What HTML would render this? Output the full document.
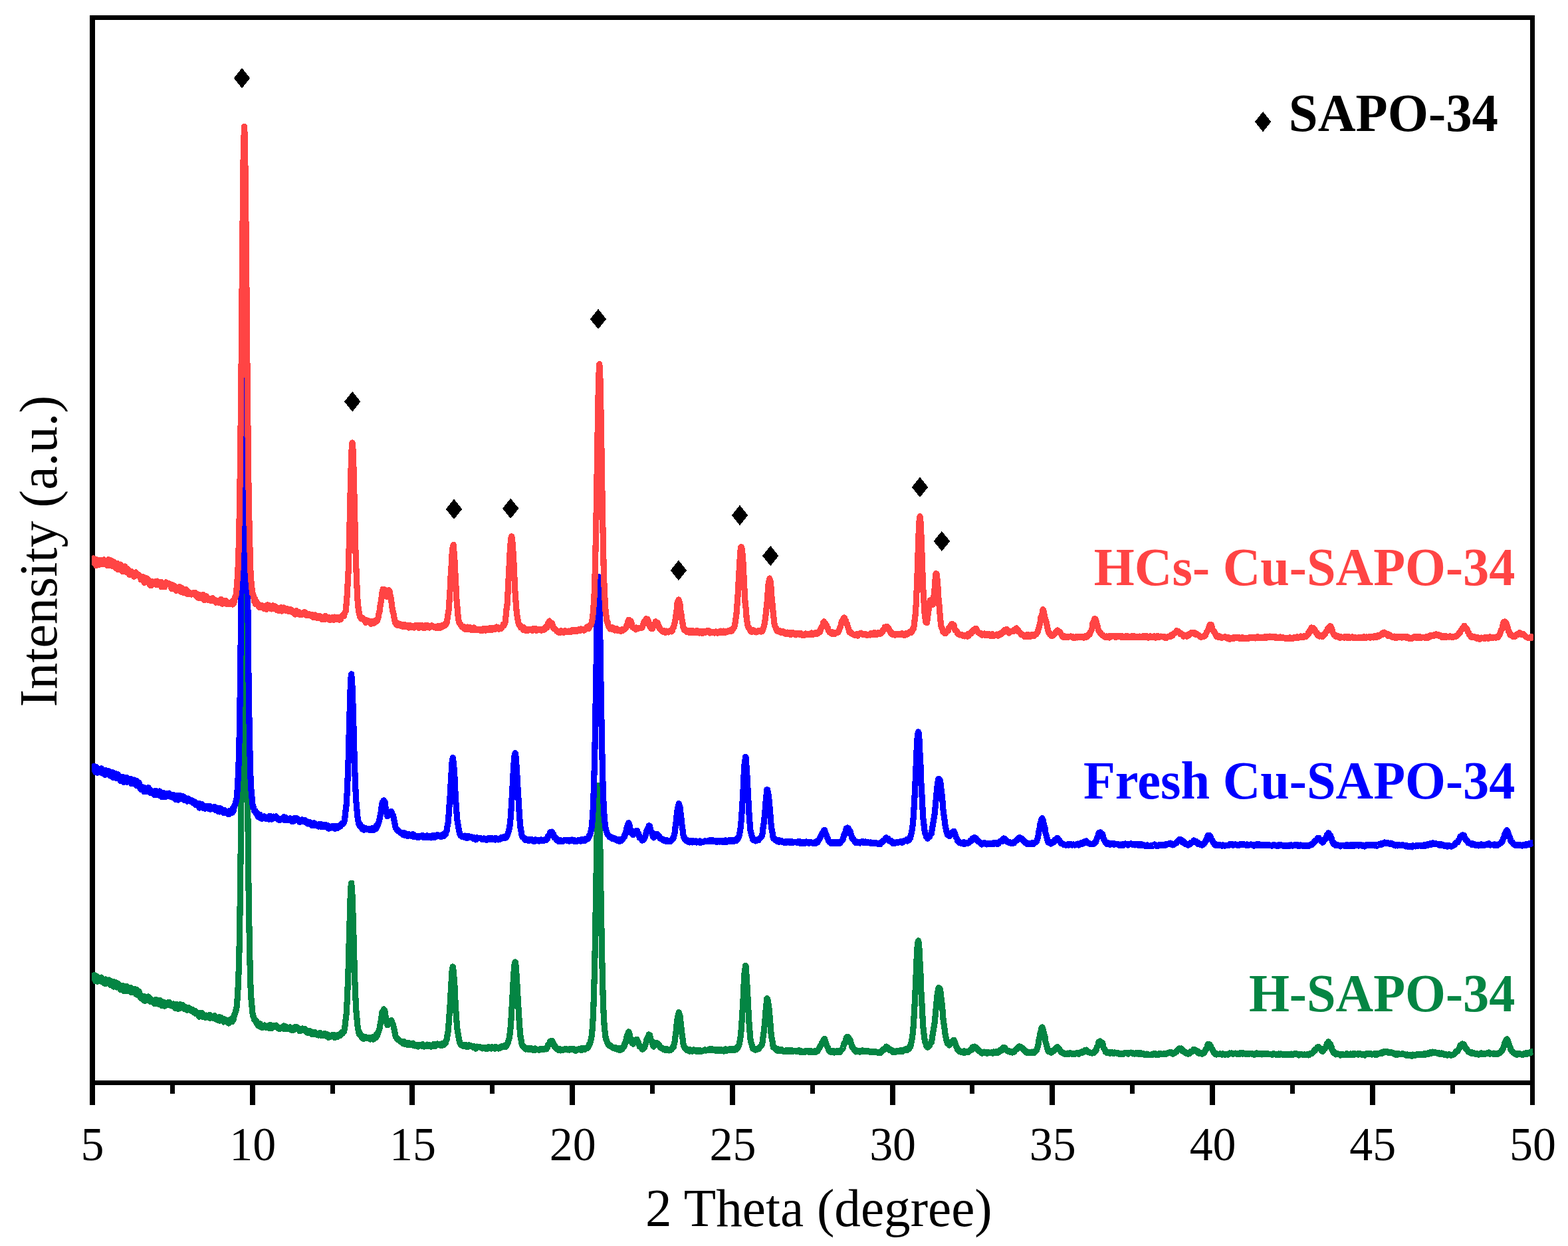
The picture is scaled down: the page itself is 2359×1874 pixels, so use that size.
<!DOCTYPE html>
<html lang="en">
<head>
<meta charset="utf-8">
<title>XRD patterns</title>
<style>
html,body{margin:0;padding:0;background:#fff;}
body{width:2359px;height:1874px;overflow:hidden;}
svg{display:block;}
text{font-family:"Liberation Serif","Times New Roman",Times,serif;}
.lab{font-size:80px;}
.b{font-weight:bold;font-size:80px;}
.tk{font-size:72.5px;text-anchor:middle;}
.cv{shape-rendering:crispEdges;fill:none;stroke-width:9.2;stroke-linejoin:round;stroke-linecap:butt;}
</style>
</head>
<body>
<svg width="2359" height="1874" viewBox="0 0 2359 1874">
<rect x="0" y="0" width="2359" height="1874" fill="#ffffff"/>
<g fill="#000">
<rect x="135" y="23" width="2174" height="7"/>
<rect x="135" y="1625" width="2174" height="7"/>
<rect x="135" y="23" width="8" height="1639"/>
<rect x="2302" y="23" width="7" height="1639"/>
<rect x="376" y="1628" width="8" height="34"/>
<rect x="616" y="1628" width="8" height="34"/>
<rect x="857" y="1628" width="8" height="34"/>
<rect x="1098" y="1628" width="8" height="34"/>
<rect x="1339" y="1628" width="8" height="34"/>
<rect x="1579" y="1628" width="8" height="34"/>
<rect x="1820" y="1628" width="8" height="34"/>
<rect x="2061" y="1628" width="8" height="34"/>
<rect x="256" y="1628" width="7" height="17"/>
<rect x="497" y="1628" width="7" height="17"/>
<rect x="737" y="1628" width="7" height="17"/>
<rect x="978" y="1628" width="7" height="17"/>
<rect x="1219" y="1628" width="7" height="17"/>
<rect x="1459" y="1628" width="7" height="17"/>
<rect x="1700" y="1628" width="7" height="17"/>
<rect x="1941" y="1628" width="7" height="17"/>
<rect x="2182" y="1628" width="7" height="17"/>
</g>
<defs><clipPath id="plot"><rect x="138" y="26" width="2169" height="1603"/></clipPath></defs>
<g clip-path="url(#plot)">
<path class="cv" stroke="#048543" d="M139.0 1466.7L140.0 1470.2L140.9 1471.4L141.9 1466.6L142.9 1467.8L143.8 1475.7L144.8 1467.9L145.7 1468.6L146.7 1476.4L147.7 1473.3L148.6 1471.7L149.6 1473.0L150.6 1474.4L151.5 1471.2L152.5 1470.0L153.4 1476.6L154.4 1475.6L155.4 1474.7L156.3 1478.5L157.3 1476.0L158.3 1479.7L159.2 1472.8L160.2 1476.4L161.1 1475.9L162.1 1474.9L163.1 1477.4L164.0 1474.0L165.0 1479.8L166.0 1481.3L166.9 1475.4L167.9 1478.7L168.8 1477.2L169.8 1476.1L170.8 1484.1L171.7 1480.0L172.7 1477.5L173.7 1482.2L174.6 1478.0L175.6 1485.0L176.6 1479.9L177.5 1479.0L178.5 1481.0L179.4 1482.6L180.4 1484.2L181.4 1488.9L182.3 1487.5L183.3 1484.8L184.3 1482.3L185.2 1483.6L186.2 1490.7L187.1 1486.1L188.1 1488.3L189.1 1483.4L190.0 1483.4L191.0 1490.6L192.0 1488.5L192.9 1486.6L193.9 1487.2L194.8 1485.7L195.8 1486.1L196.8 1485.6L197.7 1492.9L198.7 1489.4L199.7 1487.2L200.6 1492.9L201.6 1488.1L202.6 1487.2L203.5 1491.9L204.5 1495.3L205.4 1488.4L206.4 1496.2L207.4 1492.2L208.3 1491.9L209.3 1491.7L210.3 1495.3L211.2 1500.1L212.2 1498.8L213.1 1502.1L214.1 1497.9L215.1 1498.4L216.0 1498.4L217.0 1505.0L218.0 1505.1L218.9 1500.2L219.9 1500.8L220.8 1500.3L221.8 1504.3L222.8 1499.0L223.7 1499.2L224.7 1502.4L225.7 1501.6L226.6 1506.7L227.6 1506.2L228.5 1505.3L229.5 1506.6L230.5 1507.4L231.4 1508.1L232.4 1509.7L233.4 1503.8L234.3 1507.4L235.3 1503.7L236.3 1506.6L237.2 1509.4L238.2 1510.1L239.1 1509.4L240.1 1504.1L241.1 1506.8L242.0 1505.6L243.0 1512.5L244.0 1506.7L244.9 1507.6L245.9 1508.9L246.8 1507.1L247.8 1513.1L248.8 1511.9L249.7 1508.2L250.7 1510.9L251.7 1508.0L252.6 1511.7L253.6 1508.9L254.5 1507.3L255.5 1508.4L256.5 1512.0L257.4 1512.9L258.4 1511.1L259.4 1513.3L260.3 1511.0L261.3 1509.9L262.2 1511.9L263.2 1512.9L264.2 1516.8L265.1 1510.7L266.1 1510.4L267.1 1513.6L268.0 1517.2L269.0 1516.9L270.0 1515.3L270.9 1510.6L271.9 1516.0L272.8 1515.6L273.8 1512.0L274.8 1514.5L275.7 1512.0L276.7 1517.3L277.7 1517.1L278.6 1517.8L279.6 1518.0L280.5 1515.0L281.5 1519.3L282.5 1515.7L283.4 1515.3L284.4 1517.3L285.4 1518.4L286.3 1517.3L287.3 1520.1L288.2 1520.3L289.2 1518.2L290.2 1521.1L291.1 1519.6L292.1 1522.9L293.1 1520.2L294.0 1524.4L295.0 1522.2L296.0 1523.8L296.9 1524.8L297.9 1524.5L298.8 1523.3L299.8 1529.2L300.8 1523.1L301.7 1525.0L302.7 1526.7L303.7 1523.4L304.6 1524.7L305.6 1529.6L306.5 1529.4L307.5 1528.5L308.5 1530.4L309.4 1529.8L310.4 1527.1L311.4 1529.3L312.3 1527.5L313.3 1530.2L314.2 1527.9L315.2 1526.4L316.2 1531.4L317.1 1529.8L318.1 1530.4L319.1 1529.3L320.0 1531.0L321.0 1529.2L321.9 1530.2L322.9 1527.4L323.9 1531.3L324.8 1533.1L325.8 1532.6L326.8 1533.7L327.7 1532.0L328.7 1534.8L329.7 1529.6L330.6 1535.2L331.6 1532.0L332.5 1530.3L333.5 1534.2L334.5 1533.6L335.4 1534.0L336.4 1537.0L337.4 1532.6L338.3 1536.5L339.3 1535.7L340.2 1536.6L341.2 1536.8L342.2 1534.8L343.1 1537.5L344.1 1539.1L345.1 1534.7L346.0 1533.5L347.0 1533.2L347.9 1534.7L348.9 1536.9L349.9 1530.5L350.8 1534.9L351.8 1530.1L352.8 1525.2L353.7 1524.5L354.7 1519.9L355.7 1518.2L356.6 1509.3L357.6 1495.6L358.5 1476.5L359.5 1450.9L360.5 1406.4L361.4 1342.9L362.4 1260.2L363.4 1160.2L364.3 1047.3L365.3 928.7L366.2 830.5L367.2 770.2L367.8 759.6L368.2 761.9L369.1 811.3L370.1 904.0L371.1 1017.9L372.0 1134.9L373.0 1239.9L373.9 1325.8L374.9 1392.6L375.9 1443.1L376.8 1478.7L377.8 1500.4L378.8 1510.6L379.7 1522.5L380.7 1528.5L381.6 1528.9L382.6 1533.8L383.6 1533.4L384.5 1534.0L385.5 1538.2L386.5 1536.7L387.4 1540.8L388.4 1542.5L389.4 1543.3L390.3 1541.2L391.3 1539.6L392.2 1544.6L393.2 1544.8L394.2 1545.7L395.1 1544.2L396.1 1544.7L397.1 1543.2L398.0 1542.1L399.0 1542.8L399.9 1545.6L400.9 1543.5L401.9 1545.4L402.8 1543.8L403.8 1543.5L404.8 1546.4L405.7 1541.7L406.7 1543.7L407.6 1541.9L408.6 1546.5L409.6 1543.8L410.5 1543.0L411.5 1542.2L412.5 1544.8L413.4 1543.9L414.4 1542.6L415.3 1542.2L416.3 1544.2L417.3 1545.4L418.2 1545.2L419.2 1547.2L420.2 1547.4L421.1 1547.6L422.1 1546.9L423.1 1545.2L424.0 1545.3L425.0 1544.8L425.9 1544.7L426.9 1542.9L427.9 1547.7L428.8 1544.9L429.8 1543.9L430.8 1546.3L431.7 1547.6L432.7 1546.4L433.6 1546.1L434.6 1547.8L435.6 1545.7L436.5 1544.9L437.5 1548.4L438.5 1547.9L439.4 1549.8L440.4 1547.3L441.3 1549.5L442.3 1545.1L443.3 1544.8L444.2 1547.8L445.2 1545.4L446.2 1544.7L447.1 1545.3L448.1 1546.7L449.1 1547.2L450.0 1548.7L451.0 1550.9L451.9 1548.6L452.9 1547.5L453.9 1549.9L454.8 1547.0L455.8 1549.2L456.8 1548.9L457.7 1549.3L458.7 1547.6L459.6 1550.6L460.6 1551.4L461.6 1552.2L462.5 1553.2L463.5 1550.2L464.5 1552.3L465.4 1551.4L466.4 1550.8L467.3 1554.3L468.3 1553.9L469.3 1555.6L470.2 1555.1L471.2 1555.9L472.2 1552.1L473.1 1552.1L474.1 1553.0L475.0 1554.5L476.0 1556.1L477.0 1554.7L477.9 1555.8L478.9 1557.2L479.9 1554.0L480.8 1556.9L481.8 1553.4L482.8 1554.9L483.7 1557.6L484.7 1557.4L485.6 1556.1L486.6 1554.9L487.6 1557.7L488.5 1555.6L489.5 1554.8L490.5 1556.1L491.4 1555.2L492.4 1559.1L493.3 1556.1L494.3 1560.5L495.3 1557.0L496.2 1557.7L497.2 1559.4L498.2 1557.9L499.1 1557.9L500.1 1556.7L501.0 1558.3L502.0 1556.3L503.0 1557.0L503.9 1560.7L504.9 1557.5L505.9 1557.3L506.8 1559.1L507.8 1559.7L508.7 1556.5L509.7 1556.4L510.7 1557.5L511.6 1557.4L512.6 1556.1L513.6 1553.2L514.5 1552.3L515.5 1554.2L516.5 1552.6L517.4 1551.7L518.4 1547.4L519.3 1540.4L520.3 1531.1L521.3 1523.5L522.2 1505.7L523.2 1482.3L524.2 1454.5L525.1 1419.7L526.1 1384.8L527.0 1354.2L528.0 1333.0L528.7 1328.1L529.9 1344.5L530.9 1372.2L531.9 1405.4L532.8 1440.0L533.8 1473.9L534.7 1496.3L535.7 1518.1L536.7 1528.3L537.6 1540.2L538.6 1546.7L539.6 1552.4L540.5 1555.5L541.5 1553.7L542.5 1557.6L543.4 1559.0L544.4 1557.7L545.3 1561.4L546.3 1560.2L547.3 1562.4L548.2 1559.2L549.2 1560.8L550.2 1559.8L551.1 1561.7L552.1 1561.4L553.0 1561.2L554.0 1560.8L555.0 1561.5L555.9 1561.0L556.9 1563.1L557.9 1561.2L558.8 1561.2L559.8 1560.0L560.7 1560.1L561.7 1563.1L562.7 1559.6L563.6 1561.9L564.6 1559.5L565.6 1560.6L566.5 1555.3L567.5 1557.6L568.4 1555.1L569.4 1551.8L570.4 1549.2L571.3 1545.4L572.3 1539.2L573.3 1534.9L574.2 1527.1L575.2 1521.2L576.2 1520.9L577.4 1517.9L578.1 1521.3L579.0 1520.3L580.0 1528.0L581.0 1534.0L581.9 1538.2L582.9 1541.9L583.9 1539.7L584.8 1540.5L585.8 1540.0L586.7 1538.8L587.7 1536.1L588.7 1534.6L589.5 1536.1L590.6 1540.5L591.6 1540.8L592.5 1546.6L593.5 1549.8L594.4 1555.3L595.4 1559.3L596.4 1560.1L597.3 1562.7L598.3 1562.3L599.3 1564.1L600.2 1564.3L601.2 1565.1L602.1 1565.7L603.1 1567.1L604.1 1566.7L605.0 1567.2L606.0 1569.5L607.0 1566.5L607.9 1566.6L608.9 1567.4L609.9 1570.9L610.8 1570.0L611.8 1570.7L612.7 1571.4L613.7 1568.4L614.7 1571.4L615.6 1568.9L616.6 1570.3L617.6 1570.7L618.5 1571.5L619.5 1569.3L620.4 1570.2L621.4 1569.0L622.4 1569.9L623.3 1572.9L624.3 1572.7L625.3 1571.7L626.2 1572.8L627.2 1573.4L628.1 1571.4L629.1 1574.1L630.1 1572.2L631.0 1571.4L632.0 1572.6L633.0 1572.9L633.9 1573.0L634.9 1572.8L635.9 1570.5L636.8 1572.9L637.8 1574.1L638.7 1572.9L639.7 1573.9L640.7 1572.2L641.6 1573.5L642.6 1571.1L643.6 1573.9L644.5 1572.2L645.5 1573.9L646.4 1571.7L647.4 1573.1L648.4 1574.0L649.3 1573.3L650.3 1572.7L651.3 1573.8L652.2 1570.4L653.2 1570.3L654.1 1571.8L655.1 1573.2L656.1 1572.1L657.0 1570.6L658.0 1570.0L659.0 1571.4L659.9 1571.6L660.9 1571.4L661.8 1572.0L662.8 1570.8L663.8 1572.9L664.7 1570.5L665.7 1569.5L666.7 1569.9L667.6 1571.6L668.6 1568.0L669.6 1567.6L670.5 1568.7L671.5 1564.2L672.4 1562.8L673.4 1554.2L674.4 1550.4L675.3 1536.4L676.3 1522.2L677.3 1508.4L678.2 1491.6L679.2 1474.7L680.1 1460.5L681.2 1453.9L682.1 1460.0L683.0 1469.7L684.0 1483.8L685.0 1506.1L685.9 1521.0L686.9 1535.0L687.8 1547.0L688.8 1553.2L689.8 1558.9L690.7 1564.1L691.7 1567.9L692.7 1569.9L693.6 1571.7L694.6 1571.8L695.5 1573.0L696.5 1572.3L697.5 1573.1L698.4 1572.8L699.4 1571.3L700.4 1571.4L701.3 1574.3L702.3 1572.5L703.3 1574.5L704.2 1573.5L705.2 1571.9L706.1 1573.8L707.1 1573.7L708.1 1572.5L709.0 1573.4L710.0 1573.7L711.0 1574.0L711.9 1575.5L712.9 1573.7L713.8 1575.2L714.8 1575.8L715.8 1577.2L716.7 1574.2L717.7 1574.1L718.7 1574.7L719.6 1574.8L720.6 1574.7L721.5 1574.5L722.5 1575.0L723.5 1575.1L724.4 1576.1L725.4 1576.8L726.4 1575.8L727.3 1575.2L728.3 1575.2L729.3 1576.2L730.2 1575.8L731.2 1576.5L732.1 1577.8L733.1 1577.1L734.1 1575.3L735.0 1574.8L736.0 1575.1L737.0 1576.4L737.9 1575.9L738.9 1577.1L739.8 1574.7L740.8 1575.0L741.8 1576.8L742.7 1576.6L743.7 1576.1L744.7 1577.3L745.6 1574.7L746.6 1575.0L747.5 1575.9L748.5 1575.8L749.5 1577.1L750.4 1577.1L751.4 1575.8L752.4 1576.4L753.3 1576.0L754.3 1573.8L755.2 1575.1L756.2 1574.1L757.2 1574.0L758.1 1573.0L759.1 1572.3L760.1 1574.7L761.0 1573.8L762.0 1573.2L763.0 1570.3L763.9 1569.0L764.9 1565.2L765.8 1562.7L766.8 1557.5L767.8 1548.8L768.7 1538.2L769.7 1520.3L770.7 1506.3L771.6 1484.8L772.6 1470.0L773.5 1454.0L774.5 1448.4L775.0 1446.9L775.5 1447.3L776.4 1455.5L777.4 1471.6L778.4 1487.8L779.3 1505.6L780.3 1520.5L781.2 1536.2L782.2 1550.7L783.2 1560.3L784.1 1564.2L785.1 1570.3L786.1 1573.3L787.0 1572.8L788.0 1573.9L789.0 1576.4L789.9 1575.4L790.9 1578.1L791.8 1576.4L792.8 1577.8L793.8 1577.7L794.7 1576.5L795.7 1578.8L796.7 1577.4L797.6 1576.5L798.6 1576.5L799.5 1577.8L800.5 1578.4L801.5 1577.3L802.4 1579.4L803.4 1577.6L804.4 1579.6L805.3 1577.0L806.3 1578.3L807.2 1578.0L808.2 1578.6L809.2 1578.1L810.1 1578.4L811.1 1579.3L812.1 1578.1L813.0 1578.2L814.0 1577.2L814.9 1578.5L815.9 1577.4L816.9 1578.0L817.8 1578.6L818.8 1577.7L819.8 1577.0L820.7 1576.7L821.7 1578.0L822.7 1576.5L823.6 1575.4L824.6 1571.6L825.5 1570.4L826.5 1570.1L827.5 1566.0L828.4 1567.2L829.3 1565.6L830.4 1565.3L831.3 1567.5L832.3 1568.2L833.2 1572.5L834.2 1574.4L835.2 1573.3L836.1 1575.4L837.1 1577.5L838.1 1576.5L839.0 1578.2L840.0 1579.4L840.9 1578.8L841.9 1577.4L842.9 1579.9L843.8 1579.9L844.8 1579.4L845.8 1578.9L846.7 1579.9L847.7 1579.0L848.6 1578.1L849.6 1577.8L850.6 1577.5L851.5 1577.6L852.5 1577.8L853.5 1579.0L854.4 1578.8L855.4 1578.6L856.4 1579.3L857.3 1577.3L858.3 1578.2L859.2 1577.2L860.2 1578.3L861.2 1577.2L862.1 1577.3L863.1 1577.5L864.1 1578.8L865.0 1580.1L866.0 1578.5L866.9 1580.1L867.9 1578.4L868.9 1578.2L869.8 1578.7L870.8 1577.5L871.8 1578.5L872.7 1578.6L873.7 1579.3L874.6 1576.8L875.6 1579.1L876.6 1578.3L877.5 1578.2L878.5 1576.4L879.5 1578.8L880.4 1576.2L881.4 1576.4L882.4 1575.8L883.3 1576.6L884.3 1574.6L885.2 1574.9L886.2 1570.9L887.2 1570.6L888.1 1567.6L889.1 1563.7L890.1 1558.9L891.0 1549.5L892.0 1534.5L892.9 1514.7L893.9 1481.1L894.9 1442.3L895.8 1390.9L896.8 1332.0L897.8 1273.3L898.7 1221.7L899.7 1187.3L900.3 1181.6L900.6 1182.7L901.6 1209.9L902.6 1255.6L903.5 1314.7L904.5 1374.6L905.5 1428.1L906.4 1470.0L907.4 1507.9L908.3 1527.6L909.3 1545.0L910.3 1553.3L911.2 1561.2L912.2 1564.0L913.2 1566.5L914.1 1568.9L915.1 1570.7L916.1 1571.8L917.0 1573.1L918.0 1572.6L918.9 1572.5L919.9 1573.6L920.9 1574.4L921.8 1576.0L922.8 1575.9L923.8 1575.8L924.7 1575.1L925.7 1577.2L926.6 1575.9L927.6 1577.3L928.6 1578.4L929.5 1578.4L930.5 1576.9L931.5 1577.6L932.4 1579.6L933.4 1577.0L934.3 1578.7L935.3 1577.5L936.3 1577.5L937.2 1576.1L938.2 1573.7L939.2 1573.4L940.1 1568.9L941.1 1568.9L942.0 1564.6L943.0 1558.8L944.0 1556.2L944.9 1554.1L945.4 1554.0L945.9 1551.7L946.9 1554.6L947.8 1558.7L948.8 1564.0L949.8 1567.0L950.7 1568.4L951.7 1567.9L952.6 1570.1L953.6 1568.4L954.6 1565.6L955.5 1565.9L956.5 1563.9L957.3 1563.6L958.4 1563.5L959.4 1566.6L960.3 1567.4L961.3 1570.4L962.3 1574.2L963.2 1574.3L964.2 1574.9L965.2 1576.7L966.1 1578.2L967.1 1578.0L968.0 1576.9L969.0 1576.5L970.0 1574.3L970.9 1571.7L971.9 1568.1L972.9 1563.5L973.8 1562.6L974.8 1559.3L975.8 1558.9L976.2 1556.0L976.7 1558.2L977.7 1556.9L978.6 1562.8L979.6 1565.8L980.6 1565.4L981.5 1569.0L982.5 1573.2L983.5 1574.0L984.4 1573.1L985.4 1570.3L986.3 1568.7L987.3 1568.8L988.3 1570.8L988.8 1569.4L989.2 1569.0L990.2 1570.9L991.2 1572.8L992.1 1572.2L993.1 1575.3L994.0 1574.9L995.0 1576.3L996.0 1576.0L996.9 1577.0L997.9 1578.4L998.9 1577.1L999.8 1578.7L1000.8 1577.6L1001.7 1579.7L1002.7 1577.6L1003.7 1578.0L1004.6 1578.6L1005.6 1579.4L1006.6 1580.0L1007.5 1579.8L1008.5 1579.7L1009.5 1579.0L1010.4 1578.2L1011.4 1576.6L1012.3 1574.5L1013.3 1574.8L1014.3 1569.9L1015.2 1566.0L1016.2 1557.1L1017.2 1550.4L1018.1 1540.0L1019.1 1532.6L1020.0 1527.9L1021.3 1522.6L1022.0 1525.0L1022.9 1527.2L1023.9 1536.3L1024.9 1544.9L1025.8 1553.7L1026.8 1560.3L1027.7 1568.3L1028.7 1573.1L1029.7 1575.7L1030.6 1575.2L1031.6 1577.9L1032.6 1578.3L1033.5 1579.5L1034.5 1578.0L1035.4 1580.3L1036.4 1579.5L1037.4 1581.2L1038.3 1578.5L1039.3 1579.8L1040.3 1580.1L1041.2 1581.2L1042.2 1581.0L1043.2 1578.9L1044.1 1579.3L1045.1 1580.4L1046.0 1579.6L1047.0 1579.1L1048.0 1581.3L1048.9 1581.1L1049.9 1579.7L1050.9 1580.3L1051.8 1581.3L1052.8 1579.2L1053.7 1580.9L1054.7 1581.3L1055.7 1581.0L1056.6 1580.7L1057.6 1580.4L1058.6 1580.1L1059.5 1580.1L1060.5 1578.9L1061.4 1579.8L1062.4 1580.0L1063.4 1579.3L1064.3 1579.8L1065.3 1579.0L1066.3 1579.8L1067.2 1579.4L1068.2 1577.6L1069.2 1579.4L1070.1 1578.1L1071.1 1577.4L1072.0 1578.2L1073.0 1579.2L1074.0 1579.9L1074.9 1579.5L1075.9 1578.9L1076.9 1580.3L1077.8 1579.1L1078.8 1580.6L1079.7 1578.7L1080.7 1579.7L1081.7 1578.6L1082.6 1580.2L1083.6 1580.0L1084.6 1580.1L1085.5 1578.7L1086.5 1580.6L1087.4 1579.3L1088.4 1580.6L1089.4 1581.0L1090.3 1578.4L1091.3 1578.0L1092.3 1580.2L1093.2 1580.4L1094.2 1580.0L1095.1 1578.5L1096.1 1579.9L1097.1 1577.8L1098.0 1577.7L1099.0 1579.4L1100.0 1579.0L1100.9 1579.8L1101.9 1577.8L1102.9 1578.4L1103.8 1579.9L1104.8 1577.7L1105.7 1577.7L1106.7 1578.2L1107.7 1578.8L1108.6 1575.4L1109.6 1576.9L1110.6 1574.8L1111.5 1572.9L1112.5 1568.8L1113.4 1564.4L1114.4 1557.4L1115.4 1545.9L1116.3 1532.2L1117.3 1516.1L1118.3 1498.3L1119.2 1477.9L1120.2 1461.6L1121.1 1456.5L1121.5 1452.6L1122.1 1453.4L1123.1 1468.1L1124.0 1481.9L1125.0 1500.5L1126.0 1520.4L1126.9 1536.7L1127.9 1550.3L1128.8 1562.2L1129.8 1566.8L1130.8 1570.4L1131.7 1573.5L1132.7 1577.3L1133.7 1576.5L1134.6 1576.7L1135.6 1578.4L1136.6 1579.0L1137.5 1577.8L1138.5 1578.6L1139.4 1577.0L1140.4 1577.0L1141.4 1577.5L1142.3 1576.0L1143.3 1575.0L1144.3 1573.8L1145.2 1572.4L1146.2 1572.0L1147.1 1567.6L1148.1 1559.0L1149.1 1552.2L1150.0 1544.2L1151.0 1533.6L1152.0 1520.5L1152.9 1511.3L1153.9 1501.6L1154.6 1502.1L1155.8 1508.2L1156.8 1514.9L1157.7 1525.3L1158.7 1536.0L1159.7 1550.2L1160.6 1559.2L1161.6 1563.4L1162.6 1570.6L1163.5 1575.4L1164.5 1574.4L1165.4 1576.2L1166.4 1577.0L1167.4 1578.3L1168.3 1578.4L1169.3 1580.0L1170.3 1577.9L1171.2 1578.5L1172.2 1580.6L1173.1 1578.2L1174.1 1579.0L1175.1 1579.7L1176.0 1578.8L1177.0 1579.6L1178.0 1581.1L1178.9 1581.1L1179.9 1581.2L1180.8 1581.3L1181.8 1581.5L1182.8 1579.6L1183.7 1581.3L1184.7 1581.2L1185.7 1579.9L1186.6 1580.3L1187.6 1579.8L1188.5 1581.8L1189.5 1579.8L1190.5 1579.5L1191.4 1581.3L1192.4 1581.0L1193.4 1581.4L1194.3 1580.7L1195.3 1580.3L1196.3 1580.3L1197.2 1580.7L1198.2 1581.0L1199.1 1581.9L1200.1 1580.2L1201.1 1581.4L1202.0 1579.5L1203.0 1580.2L1204.0 1582.4L1204.9 1580.4L1205.9 1581.1L1206.8 1582.5L1207.8 1581.6L1208.8 1581.2L1209.7 1581.9L1210.7 1582.6L1211.7 1582.3L1212.6 1580.2L1213.6 1580.5L1214.5 1581.0L1215.5 1580.6L1216.5 1582.2L1217.4 1582.5L1218.4 1580.5L1219.4 1580.4L1220.3 1581.0L1221.3 1582.0L1222.3 1582.4L1223.2 1581.5L1224.2 1582.2L1225.1 1582.8L1226.1 1582.8L1227.1 1580.2L1228.0 1581.6L1229.0 1581.3L1230.0 1581.2L1230.9 1579.0L1231.9 1577.1L1232.8 1576.5L1233.8 1574.0L1234.8 1571.7L1235.7 1571.1L1236.7 1568.2L1237.7 1566.5L1238.6 1565.0L1239.5 1563.0L1240.5 1562.5L1241.5 1565.3L1242.5 1569.4L1243.4 1570.7L1244.4 1573.8L1245.4 1575.4L1246.3 1578.0L1247.3 1580.2L1248.2 1580.6L1249.2 1581.8L1250.2 1582.6L1251.1 1581.9L1252.1 1582.4L1253.1 1580.5L1254.0 1580.6L1255.0 1583.0L1256.0 1581.2L1256.9 1581.5L1257.9 1581.0L1258.8 1582.4L1259.8 1580.7L1260.8 1582.7L1261.7 1581.3L1262.7 1582.1L1263.7 1582.3L1264.6 1581.0L1265.6 1579.2L1266.5 1578.9L1267.5 1577.9L1268.5 1575.5L1269.4 1571.4L1270.4 1568.1L1271.4 1568.7L1272.3 1564.8L1273.3 1560.2L1274.2 1560.7L1275.1 1559.1L1276.2 1559.7L1277.1 1563.4L1278.1 1562.7L1279.1 1564.8L1280.0 1568.4L1281.0 1571.3L1281.9 1575.2L1282.9 1576.4L1283.9 1576.3L1284.8 1578.4L1285.8 1578.6L1286.8 1581.1L1287.7 1582.0L1288.7 1580.0L1289.7 1581.2L1290.6 1580.5L1291.6 1580.5L1292.5 1581.8L1293.5 1582.2L1294.5 1580.4L1295.4 1581.1L1296.4 1580.3L1297.4 1579.7L1298.3 1581.2L1299.3 1580.2L1300.2 1581.3L1301.2 1581.5L1302.2 1580.2L1303.1 1581.6L1304.1 1580.3L1305.1 1581.7L1306.0 1580.6L1307.0 1581.7L1307.9 1582.0L1308.9 1582.0L1309.9 1581.1L1310.8 1582.9L1311.8 1581.7L1312.8 1582.6L1313.7 1581.8L1314.7 1581.9L1315.7 1582.3L1316.6 1581.4L1317.6 1582.4L1318.5 1582.0L1319.5 1582.7L1320.5 1582.9L1321.4 1583.6L1322.4 1582.3L1323.4 1582.2L1324.3 1583.7L1325.3 1582.0L1326.2 1581.0L1327.2 1581.1L1328.2 1578.7L1329.1 1579.6L1330.1 1578.4L1331.1 1577.1L1332.0 1575.4L1333.0 1576.7L1333.3 1574.1L1333.9 1576.5L1334.9 1577.2L1335.9 1575.4L1336.8 1578.3L1337.8 1579.2L1338.8 1578.8L1339.7 1578.3L1340.7 1580.4L1341.6 1580.3L1342.6 1579.9L1343.6 1582.6L1344.5 1582.5L1345.5 1581.9L1346.5 1582.4L1347.4 1582.1L1348.4 1581.5L1349.4 1580.4L1350.3 1580.8L1351.3 1581.4L1352.2 1581.2L1353.2 1580.4L1354.2 1580.0L1355.1 1580.6L1356.1 1580.0L1357.1 1581.8L1358.0 1579.6L1359.0 1579.6L1359.9 1579.7L1360.9 1578.6L1361.9 1579.1L1362.8 1579.0L1363.8 1577.1L1364.8 1579.3L1365.7 1577.6L1366.7 1575.9L1367.6 1577.8L1368.6 1574.0L1369.6 1574.2L1370.5 1570.9L1371.5 1566.1L1372.5 1560.6L1373.4 1552.8L1374.4 1540.8L1375.3 1525.0L1376.3 1507.0L1377.3 1485.7L1378.2 1464.0L1379.2 1440.4L1380.2 1422.8L1381.1 1416.8L1381.5 1414.9L1382.1 1417.0L1383.1 1427.7L1384.0 1448.1L1385.0 1466.1L1385.9 1492.3L1386.9 1509.1L1387.9 1527.7L1388.8 1544.4L1389.8 1552.8L1390.8 1562.2L1391.7 1567.4L1392.7 1568.5L1393.6 1573.0L1394.6 1573.1L1395.6 1575.3L1396.5 1572.2L1397.5 1572.0L1398.5 1572.9L1399.4 1570.1L1400.4 1568.9L1401.3 1568.2L1402.3 1561.9L1403.3 1555.4L1404.2 1549.7L1405.2 1544.4L1406.2 1537.4L1407.1 1528.3L1408.1 1517.2L1409.1 1506.4L1410.0 1497.1L1411.0 1490.6L1411.9 1485.9L1412.9 1485.9L1413.9 1486.9L1414.8 1489.9L1415.8 1499.7L1416.8 1507.6L1417.7 1514.8L1418.7 1529.3L1419.6 1538.4L1420.6 1543.1L1421.6 1553.1L1422.5 1557.4L1423.5 1563.2L1424.5 1566.7L1425.4 1569.6L1426.4 1570.1L1427.3 1569.9L1428.3 1572.0L1429.3 1569.6L1430.2 1567.9L1431.2 1567.5L1432.2 1566.2L1433.1 1566.8L1433.5 1565.2L1434.1 1565.5L1435.0 1564.3L1436.0 1566.3L1437.0 1569.3L1437.9 1571.7L1438.9 1574.4L1439.9 1575.8L1440.8 1579.3L1441.8 1579.0L1442.8 1579.5L1443.7 1581.6L1444.7 1581.6L1445.6 1581.9L1446.6 1582.8L1447.6 1582.6L1448.5 1581.5L1449.5 1583.3L1450.5 1580.8L1451.4 1583.4L1452.4 1582.0L1453.3 1582.0L1454.3 1582.1L1455.3 1581.5L1456.2 1582.7L1457.2 1582.0L1458.2 1581.2L1459.1 1579.5L1460.1 1579.6L1461.0 1577.6L1462.0 1578.8L1463.0 1575.5L1463.9 1575.7L1464.9 1574.1L1465.9 1576.2L1466.3 1574.1L1466.8 1574.5L1467.8 1577.0L1468.7 1575.2L1469.7 1577.8L1470.7 1577.5L1471.6 1579.1L1472.6 1580.6L1473.6 1580.7L1474.5 1580.9L1475.5 1582.4L1476.5 1583.5L1477.4 1584.3L1478.4 1582.5L1479.3 1582.5L1480.3 1582.1L1481.3 1582.7L1482.2 1582.2L1483.2 1583.0L1484.2 1584.2L1485.1 1582.7L1486.1 1584.1L1487.0 1583.3L1488.0 1583.0L1489.0 1583.3L1489.9 1583.2L1490.9 1583.3L1491.9 1582.5L1492.8 1583.5L1493.8 1584.1L1494.7 1582.0L1495.7 1582.1L1496.7 1583.2L1497.6 1582.2L1498.6 1581.9L1499.6 1583.7L1500.5 1582.0L1501.5 1583.4L1502.5 1582.4L1503.4 1580.6L1504.4 1580.6L1505.3 1579.1L1506.3 1579.7L1507.3 1579.9L1508.2 1576.9L1509.2 1576.0L1510.2 1575.2L1510.9 1576.6L1512.1 1575.9L1513.0 1578.7L1514.0 1578.9L1515.0 1580.2L1515.9 1579.9L1516.9 1581.3L1517.9 1581.5L1518.8 1581.0L1519.8 1582.2L1520.7 1581.5L1521.7 1582.1L1522.7 1583.1L1523.6 1581.3L1524.6 1581.0L1525.6 1582.2L1526.5 1580.7L1527.5 1579.2L1528.4 1578.6L1529.4 1577.4L1530.4 1577.9L1531.3 1575.6L1532.3 1576.0L1533.3 1573.9L1534.5 1574.1L1535.2 1575.5L1536.2 1574.7L1537.1 1576.4L1538.1 1576.0L1539.0 1576.7L1540.0 1579.4L1541.0 1578.9L1541.9 1580.9L1542.9 1581.8L1543.9 1582.7L1544.8 1583.4L1545.8 1582.0L1546.7 1583.4L1547.7 1582.6L1548.7 1583.2L1549.6 1582.9L1550.6 1583.8L1551.6 1582.6L1552.5 1582.0L1553.5 1583.9L1554.4 1583.0L1555.4 1583.4L1556.4 1581.7L1557.3 1581.2L1558.3 1581.3L1559.3 1579.9L1560.2 1577.5L1561.2 1574.3L1562.1 1570.3L1563.1 1563.5L1564.1 1559.4L1565.0 1553.5L1566.0 1550.7L1567.0 1546.1L1567.9 1545.0L1568.9 1547.2L1569.9 1551.5L1570.8 1555.7L1571.8 1557.7L1572.7 1565.9L1573.7 1569.4L1574.7 1572.2L1575.6 1576.6L1576.6 1580.2L1577.6 1581.5L1578.5 1580.3L1579.5 1581.1L1580.4 1582.4L1581.4 1583.3L1582.4 1580.6L1583.3 1580.5L1584.3 1581.5L1585.3 1580.3L1586.2 1579.8L1587.2 1577.2L1588.1 1576.8L1589.1 1577.2L1590.1 1575.3L1590.7 1575.5L1591.0 1574.5L1592.0 1577.4L1593.0 1576.9L1593.9 1578.0L1594.9 1579.8L1595.9 1581.8L1596.8 1582.9L1597.8 1582.4L1598.7 1583.4L1599.7 1583.4L1600.7 1584.9L1601.6 1585.0L1602.6 1584.9L1603.6 1585.5L1604.5 1584.8L1605.5 1584.9L1606.4 1584.0L1607.4 1585.4L1608.4 1584.4L1609.3 1585.0L1610.3 1583.6L1611.3 1584.5L1612.2 1585.0L1613.2 1585.2L1614.1 1584.8L1615.1 1584.2L1616.1 1585.0L1617.0 1585.2L1618.0 1584.8L1619.0 1584.3L1619.9 1583.6L1620.9 1584.5L1621.8 1583.3L1622.8 1585.3L1623.8 1583.7L1624.7 1583.2L1625.7 1583.1L1626.7 1581.9L1627.6 1583.4L1628.6 1583.2L1629.6 1582.3L1630.5 1580.9L1631.5 1581.4L1632.4 1579.5L1633.3 1579.6L1634.4 1579.1L1635.3 1580.2L1636.3 1582.2L1637.3 1582.2L1638.2 1582.2L1639.2 1582.9L1640.1 1583.6L1641.1 1583.9L1642.1 1583.6L1643.0 1584.1L1644.0 1583.3L1645.0 1583.5L1645.9 1583.4L1646.9 1581.3L1647.8 1580.3L1648.8 1580.4L1649.8 1576.5L1650.7 1574.1L1651.7 1573.3L1652.7 1568.0L1653.6 1566.6L1654.6 1567.3L1655.4 1566.0L1656.5 1567.4L1657.5 1568.9L1658.4 1568.3L1659.4 1571.7L1660.4 1576.6L1661.3 1577.1L1662.3 1579.0L1663.3 1582.1L1664.2 1580.9L1665.2 1583.7L1666.1 1583.4L1667.1 1583.4L1668.1 1582.1L1669.0 1583.6L1670.0 1584.4L1671.0 1583.5L1671.9 1582.9L1672.9 1582.9L1673.8 1582.9L1674.8 1583.8L1675.8 1584.8L1676.7 1583.0L1677.7 1583.7L1678.7 1583.6L1679.6 1583.7L1680.6 1584.1L1681.5 1584.5L1682.5 1583.8L1683.5 1585.2L1684.4 1584.7L1685.4 1584.3L1686.4 1585.8L1687.3 1585.2L1688.3 1584.1L1689.3 1585.8L1690.2 1584.6L1691.2 1583.8L1692.1 1583.4L1693.1 1583.2L1694.1 1583.6L1695.0 1583.7L1696.0 1583.8L1697.0 1585.2L1697.9 1584.4L1698.9 1583.5L1699.8 1583.8L1700.8 1583.6L1701.8 1583.1L1702.7 1584.0L1703.7 1584.0L1704.7 1584.9L1705.6 1584.2L1706.6 1585.1L1707.5 1585.1L1708.5 1584.1L1709.5 1585.0L1710.4 1584.6L1711.4 1583.9L1712.4 1583.7L1713.3 1585.8L1714.3 1583.6L1715.2 1585.4L1716.2 1584.4L1717.2 1584.0L1718.1 1585.7L1719.1 1585.2L1720.1 1584.8L1721.0 1586.0L1722.0 1586.2L1723.0 1585.7L1723.9 1586.3L1724.9 1586.4L1725.8 1585.1L1726.8 1586.4L1727.8 1586.8L1728.7 1586.3L1729.7 1586.5L1730.7 1586.9L1731.6 1586.4L1732.6 1585.7L1733.5 1586.1L1734.5 1586.4L1735.5 1585.7L1736.4 1584.3L1737.4 1584.2L1738.4 1584.9L1739.3 1586.4L1740.3 1585.4L1741.2 1585.7L1742.2 1586.6L1743.2 1585.1L1744.1 1585.6L1745.1 1585.3L1746.1 1584.6L1747.0 1585.9L1748.0 1585.1L1749.0 1585.2L1749.9 1585.0L1750.9 1584.6L1751.8 1585.9L1752.8 1584.1L1753.8 1584.2L1754.7 1585.0L1755.7 1584.1L1756.7 1584.2L1757.6 1583.3L1758.6 1583.8L1759.0 1583.1L1759.5 1583.4L1760.5 1582.2L1761.5 1582.4L1762.4 1584.0L1763.4 1584.5L1764.4 1585.1L1765.3 1584.7L1766.3 1583.8L1767.2 1583.6L1768.2 1582.9L1769.2 1582.2L1770.1 1582.1L1771.1 1579.6L1772.1 1579.2L1773.0 1579.1L1774.0 1577.0L1775.0 1577.6L1775.9 1579.1L1776.9 1577.0L1777.8 1580.1L1778.8 1580.8L1779.8 1579.3L1780.7 1581.8L1781.7 1581.3L1782.7 1582.0L1783.6 1584.0L1784.6 1584.1L1785.5 1584.3L1786.5 1584.0L1787.5 1585.3L1788.4 1583.9L1789.4 1584.5L1790.4 1583.5L1791.3 1581.3L1792.3 1582.2L1793.2 1581.6L1794.2 1581.2L1795.2 1580.2L1796.1 1578.2L1796.5 1579.6L1797.1 1579.6L1798.1 1579.2L1799.0 1579.5L1800.0 1580.1L1800.9 1582.3L1801.9 1581.2L1802.9 1584.1L1803.8 1582.5L1804.8 1584.3L1805.8 1583.6L1806.7 1584.5L1807.7 1583.9L1808.6 1585.3L1809.6 1583.5L1810.6 1583.8L1811.5 1583.4L1812.5 1581.8L1813.5 1579.8L1814.4 1577.7L1815.4 1577.6L1816.4 1572.8L1817.3 1570.3L1818.3 1572.0L1819.1 1570.6L1820.2 1571.5L1821.2 1572.8L1822.1 1576.6L1823.1 1577.3L1824.1 1578.1L1825.0 1581.0L1826.0 1582.6L1826.9 1583.5L1827.9 1585.2L1828.9 1584.0L1829.8 1586.1L1830.8 1585.5L1831.8 1585.9L1832.7 1585.1L1833.7 1585.1L1834.6 1585.1L1835.6 1584.9L1836.6 1585.3L1837.5 1585.6L1838.5 1586.2L1839.5 1584.9L1840.4 1585.6L1841.4 1585.7L1842.4 1586.3L1843.3 1586.2L1844.3 1585.9L1845.2 1585.9L1846.2 1585.5L1847.2 1586.1L1848.1 1586.0L1849.1 1585.2L1850.1 1584.1L1851.0 1584.8L1852.0 1584.3L1852.9 1584.0L1853.9 1584.3L1854.9 1585.5L1855.8 1584.4L1856.8 1584.9L1857.8 1584.8L1858.7 1584.1L1859.7 1584.9L1860.6 1584.7L1861.6 1585.5L1862.6 1585.0L1863.5 1585.6L1864.5 1585.6L1865.5 1584.5L1866.4 1583.6L1867.4 1584.0L1868.3 1583.8L1869.3 1585.1L1870.3 1583.7L1871.2 1584.7L1872.2 1584.2L1873.2 1584.6L1874.1 1585.3L1875.1 1584.6L1876.1 1584.2L1877.0 1584.7L1878.0 1585.9L1878.9 1585.2L1879.9 1584.8L1880.9 1584.4L1881.8 1584.2L1882.8 1584.8L1883.8 1585.2L1884.7 1584.9L1885.7 1585.8L1886.6 1586.3L1887.6 1585.2L1888.6 1584.6L1889.5 1585.5L1890.5 1583.8L1891.5 1585.3L1892.4 1585.9L1893.4 1585.7L1894.3 1584.1L1895.3 1585.3L1896.3 1585.8L1897.2 1585.1L1898.2 1586.0L1899.2 1584.3L1900.1 1585.3L1901.1 1585.4L1902.0 1585.8L1903.0 1585.0L1904.0 1584.8L1904.9 1585.6L1905.9 1584.5L1906.9 1584.8L1907.8 1585.1L1908.8 1585.8L1909.8 1585.1L1910.7 1585.4L1911.7 1585.6L1912.6 1585.9L1913.6 1586.4L1914.6 1585.7L1915.5 1585.8L1916.5 1584.7L1917.5 1585.3L1918.4 1585.8L1919.4 1585.7L1920.3 1586.4L1921.3 1585.5L1922.3 1586.0L1923.2 1586.6L1924.2 1585.0L1925.2 1585.4L1926.1 1586.0L1927.1 1585.0L1928.0 1585.1L1929.0 1586.0L1930.0 1585.5L1930.9 1586.5L1931.9 1586.0L1932.9 1586.5L1933.8 1585.6L1934.8 1585.6L1935.8 1586.5L1936.7 1586.2L1937.7 1586.9L1938.6 1585.5L1939.6 1585.2L1940.6 1586.5L1941.5 1585.4L1942.5 1585.1L1943.5 1585.7L1944.4 1586.4L1945.4 1585.6L1946.3 1586.0L1947.3 1585.2L1948.3 1584.7L1949.2 1585.4L1950.2 1585.5L1951.2 1585.0L1952.1 1586.2L1953.1 1585.2L1954.0 1587.1L1955.0 1586.5L1956.0 1585.7L1956.9 1585.1L1957.9 1585.5L1958.9 1585.8L1959.8 1586.5L1960.8 1586.6L1961.7 1586.6L1962.7 1585.9L1963.7 1586.5L1964.6 1586.4L1965.6 1586.0L1966.6 1585.8L1967.5 1586.2L1968.5 1587.0L1969.5 1585.5L1970.4 1586.1L1971.4 1584.4L1972.3 1584.2L1973.3 1584.7L1974.3 1584.2L1975.2 1583.1L1976.2 1582.0L1977.2 1579.7L1978.1 1580.5L1979.1 1578.1L1980.0 1577.9L1981.0 1577.1L1982.2 1574.8L1982.9 1576.8L1983.9 1574.3L1984.9 1576.7L1985.8 1576.5L1986.8 1577.2L1987.7 1579.5L1988.7 1579.5L1989.7 1581.4L1990.6 1580.3L1991.6 1579.0L1992.6 1576.8L1993.5 1577.1L1994.5 1575.0L1995.4 1573.4L1996.4 1569.8L1997.4 1569.7L1998.6 1566.9L1999.3 1569.4L2000.3 1570.2L2001.2 1569.9L2002.2 1575.5L2003.2 1574.6L2004.1 1579.0L2005.1 1579.8L2006.0 1582.7L2007.0 1584.1L2008.0 1583.1L2008.9 1584.2L2009.9 1585.8L2010.9 1585.3L2011.8 1584.6L2012.8 1585.1L2013.7 1585.4L2014.7 1585.6L2015.7 1586.2L2016.6 1587.1L2017.6 1586.4L2018.6 1585.4L2019.5 1585.8L2020.5 1586.0L2021.4 1586.1L2022.4 1586.4L2023.4 1586.2L2024.3 1586.2L2025.3 1585.9L2026.3 1584.6L2027.2 1586.7L2028.2 1586.7L2029.2 1586.6L2030.1 1585.8L2031.1 1586.6L2032.0 1584.9L2033.0 1586.4L2034.0 1586.1L2034.9 1586.2L2035.9 1584.8L2036.9 1586.6L2037.8 1584.7L2038.8 1585.1L2039.7 1585.9L2040.7 1585.8L2041.7 1585.1L2042.6 1585.0L2043.6 1586.3L2044.6 1584.8L2045.5 1585.4L2046.5 1584.7L2047.4 1585.6L2048.4 1586.1L2049.4 1586.3L2050.3 1585.3L2051.3 1585.4L2052.3 1586.2L2053.2 1587.1L2054.2 1586.4L2055.1 1585.0L2056.1 1584.8L2057.1 1585.2L2058.0 1585.5L2059.0 1584.9L2060.0 1585.8L2060.9 1584.8L2061.9 1584.6L2062.9 1585.8L2063.8 1586.1L2064.8 1585.1L2065.7 1585.1L2066.7 1585.2L2067.7 1584.8L2068.6 1586.2L2069.6 1584.8L2070.6 1586.2L2071.5 1586.3L2072.5 1585.7L2073.4 1584.3L2074.4 1584.2L2075.4 1584.8L2076.3 1584.6L2077.3 1583.3L2078.3 1582.9L2079.2 1584.2L2080.2 1582.8L2081.1 1583.4L2082.1 1581.6L2083.1 1581.1L2084.0 1582.8L2084.7 1582.6L2086.0 1581.4L2086.9 1581.8L2087.9 1582.9L2088.9 1582.2L2089.8 1583.1L2090.8 1582.3L2091.7 1583.6L2092.7 1582.3L2093.7 1583.3L2094.6 1583.2L2095.6 1583.5L2096.6 1584.9L2097.5 1584.4L2098.5 1585.5L2099.4 1586.2L2100.4 1584.4L2101.4 1585.5L2102.3 1586.1L2103.3 1585.1L2104.3 1584.6L2105.2 1585.5L2106.2 1585.5L2107.1 1585.9L2108.1 1585.6L2109.1 1585.2L2110.0 1584.8L2111.0 1585.3L2112.0 1585.8L2112.9 1585.6L2113.9 1585.9L2114.8 1587.0L2115.8 1586.3L2116.8 1586.0L2117.7 1587.4L2118.7 1586.7L2119.7 1587.4L2120.6 1587.5L2121.6 1586.8L2122.6 1587.9L2123.5 1587.6L2124.5 1588.2L2125.4 1586.1L2126.4 1587.0L2127.4 1586.6L2128.3 1586.4L2129.3 1587.1L2130.3 1586.1L2131.2 1586.3L2132.2 1585.7L2133.1 1586.4L2134.1 1586.3L2135.1 1585.4L2136.0 1586.1L2137.0 1586.3L2138.0 1586.8L2138.9 1585.7L2139.9 1586.7L2140.8 1586.8L2141.8 1585.7L2142.8 1584.9L2143.7 1585.0L2144.7 1586.3L2145.7 1585.7L2146.6 1584.5L2147.6 1584.1L2148.5 1585.4L2149.5 1584.9L2150.5 1584.4L2151.4 1583.0L2152.4 1584.8L2153.4 1582.5L2154.3 1582.5L2155.3 1582.1L2156.3 1583.8L2157.0 1582.6L2158.2 1582.8L2159.1 1582.4L2160.1 1583.6L2161.1 1583.4L2162.0 1583.8L2163.0 1583.4L2164.0 1584.8L2164.9 1583.6L2165.9 1585.5L2166.8 1585.7L2167.8 1584.6L2168.8 1584.0L2169.7 1584.3L2170.7 1584.4L2171.7 1585.8L2172.6 1585.5L2173.6 1586.9L2174.5 1585.6L2175.5 1585.7L2176.5 1586.7L2177.4 1587.3L2178.4 1586.8L2179.4 1585.8L2180.3 1585.7L2181.3 1586.7L2182.3 1587.0L2183.2 1587.4L2184.2 1586.5L2185.1 1586.7L2186.1 1586.3L2187.1 1585.5L2188.0 1585.5L2189.0 1583.6L2190.0 1582.5L2190.9 1581.5L2191.9 1580.6L2192.8 1581.1L2193.8 1579.4L2194.8 1577.2L2195.7 1576.1L2196.7 1572.5L2197.7 1573.4L2198.6 1572.5L2199.8 1570.1L2200.5 1570.0L2201.5 1570.2L2202.5 1570.7L2203.4 1574.6L2204.4 1574.7L2205.4 1577.8L2206.3 1578.4L2207.3 1578.4L2208.2 1580.5L2209.2 1582.2L2210.2 1582.3L2211.1 1582.8L2212.1 1582.5L2213.1 1583.6L2214.0 1584.7L2215.0 1583.0L2216.0 1584.8L2216.9 1584.3L2217.9 1583.9L2218.8 1585.1L2219.8 1585.3L2220.8 1585.7L2221.7 1584.8L2222.7 1584.7L2223.7 1585.4L2224.6 1586.0L2225.6 1585.0L2226.5 1585.1L2227.5 1585.0L2228.5 1583.9L2229.4 1585.7L2230.4 1584.9L2231.4 1584.8L2232.3 1584.9L2233.3 1585.5L2234.2 1585.2L2235.2 1584.4L2236.2 1584.3L2237.1 1584.0L2238.1 1584.4L2239.1 1584.9L2240.0 1583.0L2241.0 1584.4L2241.9 1585.2L2242.9 1584.7L2243.9 1584.4L2244.8 1584.5L2245.8 1584.7L2246.8 1585.2L2247.7 1584.1L2248.7 1585.9L2249.7 1585.0L2250.6 1584.4L2251.6 1585.7L2252.5 1584.5L2253.5 1585.2L2254.5 1584.2L2255.4 1584.3L2256.4 1583.0L2257.4 1582.5L2258.3 1581.8L2259.3 1579.6L2260.2 1579.8L2261.2 1576.9L2262.2 1574.2L2263.1 1571.9L2264.1 1567.9L2265.1 1565.9L2266.0 1564.4L2267.0 1562.8L2267.9 1563.7L2268.9 1566.8L2269.9 1569.9L2270.8 1573.0L2271.8 1574.3L2272.8 1578.1L2273.7 1580.1L2274.7 1581.3L2275.7 1581.2L2276.6 1583.4L2277.6 1583.9L2278.5 1584.9L2279.5 1584.2L2280.5 1586.0L2281.4 1584.5L2282.4 1586.1L2283.4 1584.6L2284.3 1585.2L2285.3 1585.9L2286.2 1584.6L2287.2 1585.2L2288.2 1585.8L2289.1 1586.1L2290.1 1586.3L2291.1 1585.4L2292.0 1586.0L2293.0 1584.4L2293.9 1585.0L2294.9 1585.3L2295.9 1583.7L2296.8 1585.2L2297.8 1585.1L2298.8 1584.3L2299.7 1584.8L2300.7 1583.9L2301.6 1582.8L2302.6 1583.4L2303.6 1582.1L2304.5 1581.7L2305.5 1581.7"/>
<path class="cv" stroke="#0000FF" d="M139.0 1152.5L140.0 1156.0L140.9 1157.2L141.9 1152.4L142.9 1153.6L143.8 1161.5L144.8 1153.7L145.7 1154.4L146.7 1162.2L147.7 1159.1L148.6 1157.5L149.6 1158.8L150.6 1160.2L151.5 1157.0L152.5 1155.8L153.4 1162.4L154.4 1161.4L155.4 1160.5L156.3 1164.3L157.3 1161.8L158.3 1165.5L159.2 1158.6L160.2 1162.2L161.1 1161.7L162.1 1160.7L163.1 1163.2L164.0 1159.8L165.0 1165.6L166.0 1167.1L166.9 1161.2L167.9 1164.5L168.8 1163.0L169.8 1161.9L170.8 1169.9L171.7 1165.8L172.7 1163.3L173.7 1168.0L174.6 1163.8L175.6 1170.8L176.6 1165.7L177.5 1164.8L178.5 1166.8L179.4 1168.4L180.4 1170.0L181.4 1174.7L182.3 1173.3L183.3 1170.6L184.3 1168.1L185.2 1169.4L186.2 1176.5L187.1 1171.9L188.1 1174.1L189.1 1169.2L190.0 1169.2L191.0 1176.4L192.0 1174.3L192.9 1172.4L193.9 1173.0L194.8 1171.5L195.8 1171.9L196.8 1171.4L197.7 1178.7L198.7 1175.2L199.7 1173.0L200.6 1178.7L201.6 1173.9L202.6 1173.0L203.5 1177.7L204.5 1181.1L205.4 1174.2L206.4 1182.0L207.4 1178.0L208.3 1177.7L209.3 1177.5L210.3 1181.1L211.2 1185.9L212.2 1184.6L213.1 1187.9L214.1 1183.7L215.1 1184.2L216.0 1184.2L217.0 1190.8L218.0 1190.9L218.9 1186.0L219.9 1186.6L220.8 1186.1L221.8 1190.1L222.8 1184.8L223.7 1185.0L224.7 1188.2L225.7 1187.4L226.6 1192.5L227.6 1192.0L228.5 1191.1L229.5 1192.4L230.5 1193.2L231.4 1193.9L232.4 1195.5L233.4 1189.6L234.3 1193.2L235.3 1189.5L236.3 1192.4L237.2 1195.2L238.2 1195.9L239.1 1195.2L240.1 1189.9L241.1 1192.6L242.0 1191.4L243.0 1198.3L244.0 1192.5L244.9 1193.4L245.9 1194.7L246.8 1192.9L247.8 1198.9L248.8 1197.7L249.7 1194.0L250.7 1196.7L251.7 1193.8L252.6 1197.5L253.6 1194.7L254.5 1193.1L255.5 1194.2L256.5 1197.8L257.4 1198.7L258.4 1196.9L259.4 1199.1L260.3 1196.8L261.3 1195.7L262.2 1197.7L263.2 1198.7L264.2 1202.6L265.1 1196.5L266.1 1196.2L267.1 1199.4L268.0 1203.0L269.0 1202.7L270.0 1201.1L270.9 1196.4L271.9 1201.8L272.8 1201.4L273.8 1197.8L274.8 1200.3L275.7 1197.8L276.7 1203.1L277.7 1202.9L278.6 1203.6L279.6 1203.8L280.5 1200.8L281.5 1205.1L282.5 1201.5L283.4 1201.1L284.4 1203.1L285.4 1204.2L286.3 1203.1L287.3 1205.9L288.2 1206.1L289.2 1204.0L290.2 1206.9L291.1 1205.4L292.1 1208.7L293.1 1206.0L294.0 1210.2L295.0 1208.0L296.0 1209.6L296.9 1210.6L297.9 1210.3L298.8 1209.1L299.8 1215.0L300.8 1208.9L301.7 1210.8L302.7 1212.5L303.7 1209.2L304.6 1210.5L305.6 1215.4L306.5 1215.2L307.5 1214.3L308.5 1216.2L309.4 1215.6L310.4 1212.9L311.4 1215.1L312.3 1213.3L313.3 1216.0L314.2 1213.7L315.2 1212.2L316.2 1217.2L317.1 1215.6L318.1 1216.2L319.1 1215.1L320.0 1216.8L321.0 1215.0L321.9 1216.0L322.9 1213.2L323.9 1217.1L324.8 1218.9L325.8 1218.4L326.8 1219.5L327.7 1217.8L328.7 1220.6L329.7 1215.4L330.6 1221.0L331.6 1217.8L332.5 1216.1L333.5 1220.0L334.5 1219.4L335.4 1219.8L336.4 1222.8L337.4 1218.4L338.3 1222.3L339.3 1221.5L340.2 1222.4L341.2 1222.6L342.2 1220.6L343.1 1223.3L344.1 1224.9L345.1 1220.5L346.0 1219.3L347.0 1219.0L347.9 1220.5L348.9 1222.7L349.9 1216.3L350.8 1220.7L351.8 1215.9L352.8 1211.0L353.7 1210.3L354.7 1205.7L355.7 1204.0L356.6 1195.1L357.6 1181.4L358.5 1162.3L359.5 1136.7L360.5 1092.2L361.4 1028.7L362.4 946.0L363.4 846.0L364.3 733.1L365.3 614.5L366.2 516.3L367.2 456.0L367.8 445.4L368.2 447.7L369.1 497.1L370.1 589.8L371.1 703.7L372.0 820.7L373.0 925.7L373.9 1011.6L374.9 1078.4L375.9 1128.9L376.8 1164.5L377.8 1186.2L378.8 1196.4L379.7 1208.3L380.7 1214.3L381.6 1214.7L382.6 1219.6L383.6 1219.2L384.5 1219.8L385.5 1224.0L386.5 1222.5L387.4 1226.6L388.4 1228.3L389.4 1229.1L390.3 1227.0L391.3 1225.4L392.2 1230.4L393.2 1230.6L394.2 1231.5L395.1 1230.0L396.1 1230.5L397.1 1229.0L398.0 1227.9L399.0 1228.6L399.9 1231.4L400.9 1229.3L401.9 1231.2L402.8 1229.6L403.8 1229.3L404.8 1232.2L405.7 1227.5L406.7 1229.5L407.6 1227.7L408.6 1232.3L409.6 1229.6L410.5 1228.8L411.5 1228.0L412.5 1230.6L413.4 1229.7L414.4 1228.4L415.3 1228.0L416.3 1230.0L417.3 1231.2L418.2 1231.0L419.2 1233.0L420.2 1233.2L421.1 1233.4L422.1 1232.7L423.1 1231.0L424.0 1231.1L425.0 1230.6L425.9 1230.5L426.9 1228.7L427.9 1233.5L428.8 1230.7L429.8 1229.7L430.8 1232.1L431.7 1233.4L432.7 1232.2L433.6 1231.9L434.6 1233.6L435.6 1231.5L436.5 1230.7L437.5 1234.2L438.5 1233.7L439.4 1235.6L440.4 1233.1L441.3 1235.3L442.3 1230.9L443.3 1230.6L444.2 1233.6L445.2 1231.2L446.2 1230.5L447.1 1231.1L448.1 1232.5L449.1 1233.0L450.0 1234.5L451.0 1236.7L451.9 1234.4L452.9 1233.3L453.9 1235.7L454.8 1232.8L455.8 1235.0L456.8 1234.7L457.7 1235.1L458.7 1233.4L459.6 1236.4L460.6 1237.2L461.6 1238.0L462.5 1239.0L463.5 1236.0L464.5 1238.1L465.4 1237.2L466.4 1236.6L467.3 1240.1L468.3 1239.7L469.3 1241.4L470.2 1240.9L471.2 1241.7L472.2 1237.9L473.1 1237.9L474.1 1238.8L475.0 1240.3L476.0 1241.9L477.0 1240.5L477.9 1241.6L478.9 1243.0L479.9 1239.8L480.8 1242.7L481.8 1239.2L482.8 1240.7L483.7 1243.4L484.7 1243.2L485.6 1241.9L486.6 1240.7L487.6 1243.5L488.5 1241.4L489.5 1240.6L490.5 1241.9L491.4 1241.0L492.4 1244.9L493.3 1241.9L494.3 1246.3L495.3 1242.8L496.2 1243.5L497.2 1245.2L498.2 1243.7L499.1 1243.7L500.1 1242.5L501.0 1244.1L502.0 1242.1L503.0 1242.8L503.9 1246.5L504.9 1243.3L505.9 1243.1L506.8 1244.9L507.8 1245.5L508.7 1242.3L509.7 1242.2L510.7 1243.3L511.6 1243.2L512.6 1241.9L513.6 1239.0L514.5 1238.1L515.5 1240.0L516.5 1238.4L517.4 1237.5L518.4 1233.2L519.3 1226.2L520.3 1216.9L521.3 1209.3L522.2 1191.5L523.2 1168.1L524.2 1140.3L525.1 1105.5L526.1 1070.6L527.0 1040.0L528.0 1018.8L528.7 1013.9L529.9 1030.3L530.9 1058.0L531.9 1091.2L532.8 1125.8L533.8 1159.7L534.7 1182.1L535.7 1203.9L536.7 1214.1L537.6 1226.0L538.6 1232.5L539.6 1238.2L540.5 1241.3L541.5 1239.5L542.5 1243.4L543.4 1244.8L544.4 1243.5L545.3 1247.2L546.3 1246.0L547.3 1248.2L548.2 1245.0L549.2 1246.6L550.2 1245.6L551.1 1247.5L552.1 1247.2L553.0 1247.0L554.0 1246.6L555.0 1247.3L555.9 1246.8L556.9 1248.9L557.9 1247.0L558.8 1247.0L559.8 1245.8L560.7 1245.9L561.7 1248.9L562.7 1245.4L563.6 1247.7L564.6 1245.3L565.6 1246.4L566.5 1241.1L567.5 1243.4L568.4 1240.9L569.4 1237.6L570.4 1235.0L571.3 1231.2L572.3 1225.0L573.3 1220.7L574.2 1212.9L575.2 1207.0L576.2 1206.7L577.4 1203.7L578.1 1207.1L579.0 1206.1L580.0 1213.8L581.0 1219.8L581.9 1224.0L582.9 1227.7L583.9 1225.5L584.8 1226.3L585.8 1225.8L586.7 1224.6L587.7 1221.9L588.7 1220.4L589.5 1221.9L590.6 1226.3L591.6 1226.6L592.5 1232.4L593.5 1235.6L594.4 1241.1L595.4 1245.1L596.4 1245.9L597.3 1248.5L598.3 1248.1L599.3 1249.9L600.2 1250.1L601.2 1250.9L602.1 1251.5L603.1 1252.9L604.1 1252.5L605.0 1253.0L606.0 1255.3L607.0 1252.3L607.9 1252.4L608.9 1253.2L609.9 1256.7L610.8 1255.8L611.8 1256.5L612.7 1257.2L613.7 1254.2L614.7 1257.2L615.6 1254.7L616.6 1256.1L617.6 1256.5L618.5 1257.3L619.5 1255.1L620.4 1256.0L621.4 1254.8L622.4 1255.7L623.3 1258.7L624.3 1258.5L625.3 1257.5L626.2 1258.6L627.2 1259.2L628.1 1257.2L629.1 1259.9L630.1 1258.0L631.0 1257.2L632.0 1258.4L633.0 1258.7L633.9 1258.8L634.9 1258.6L635.9 1256.3L636.8 1258.7L637.8 1259.9L638.7 1258.7L639.7 1259.7L640.7 1258.0L641.6 1259.3L642.6 1256.9L643.6 1259.7L644.5 1258.0L645.5 1259.7L646.4 1257.5L647.4 1258.9L648.4 1259.8L649.3 1259.1L650.3 1258.5L651.3 1259.6L652.2 1256.2L653.2 1256.1L654.1 1257.6L655.1 1259.0L656.1 1257.9L657.0 1256.4L658.0 1255.8L659.0 1257.2L659.9 1257.4L660.9 1257.2L661.8 1257.8L662.8 1256.6L663.8 1258.7L664.7 1256.3L665.7 1255.3L666.7 1255.7L667.6 1257.4L668.6 1253.8L669.6 1253.4L670.5 1254.5L671.5 1250.0L672.4 1248.6L673.4 1240.0L674.4 1236.2L675.3 1222.2L676.3 1208.0L677.3 1194.2L678.2 1177.4L679.2 1160.5L680.1 1146.3L681.2 1139.7L682.1 1145.8L683.0 1155.5L684.0 1169.6L685.0 1191.9L685.9 1206.8L686.9 1220.8L687.8 1232.8L688.8 1239.0L689.8 1244.7L690.7 1249.9L691.7 1253.7L692.7 1255.7L693.6 1257.5L694.6 1257.6L695.5 1258.8L696.5 1258.1L697.5 1258.9L698.4 1258.6L699.4 1257.1L700.4 1257.2L701.3 1260.1L702.3 1258.3L703.3 1260.3L704.2 1259.3L705.2 1257.7L706.1 1259.6L707.1 1259.5L708.1 1258.3L709.0 1259.2L710.0 1259.5L711.0 1259.8L711.9 1261.3L712.9 1259.5L713.8 1261.0L714.8 1261.6L715.8 1263.0L716.7 1260.0L717.7 1259.9L718.7 1260.5L719.6 1260.6L720.6 1260.5L721.5 1260.3L722.5 1260.8L723.5 1260.9L724.4 1261.9L725.4 1262.6L726.4 1261.6L727.3 1261.0L728.3 1261.0L729.3 1262.0L730.2 1261.6L731.2 1262.3L732.1 1263.6L733.1 1262.9L734.1 1261.1L735.0 1260.6L736.0 1260.9L737.0 1262.2L737.9 1261.7L738.9 1262.9L739.8 1260.5L740.8 1260.8L741.8 1262.6L742.7 1262.4L743.7 1261.9L744.7 1263.1L745.6 1260.5L746.6 1260.8L747.5 1261.7L748.5 1261.6L749.5 1262.9L750.4 1262.9L751.4 1261.6L752.4 1262.2L753.3 1261.8L754.3 1259.6L755.2 1260.9L756.2 1259.9L757.2 1259.8L758.1 1258.8L759.1 1258.1L760.1 1260.5L761.0 1259.6L762.0 1259.0L763.0 1256.1L763.9 1254.8L764.9 1251.0L765.8 1248.5L766.8 1243.3L767.8 1234.6L768.7 1224.0L769.7 1206.1L770.7 1192.1L771.6 1170.6L772.6 1155.8L773.5 1139.8L774.5 1134.2L775.0 1132.7L775.5 1133.1L776.4 1141.3L777.4 1157.4L778.4 1173.6L779.3 1191.4L780.3 1206.3L781.2 1222.0L782.2 1236.5L783.2 1246.1L784.1 1250.0L785.1 1256.1L786.1 1259.1L787.0 1258.6L788.0 1259.7L789.0 1262.2L789.9 1261.2L790.9 1263.9L791.8 1262.2L792.8 1263.6L793.8 1263.5L794.7 1262.3L795.7 1264.6L796.7 1263.2L797.6 1262.3L798.6 1262.3L799.5 1263.6L800.5 1264.2L801.5 1263.1L802.4 1265.2L803.4 1263.4L804.4 1265.4L805.3 1262.8L806.3 1264.1L807.2 1263.8L808.2 1264.4L809.2 1263.9L810.1 1264.2L811.1 1265.1L812.1 1263.9L813.0 1264.0L814.0 1263.0L814.9 1264.3L815.9 1263.2L816.9 1263.8L817.8 1264.4L818.8 1263.5L819.8 1262.8L820.7 1262.5L821.7 1263.8L822.7 1262.3L823.6 1261.2L824.6 1257.4L825.5 1256.2L826.5 1255.9L827.5 1251.8L828.4 1253.0L829.3 1251.4L830.4 1251.1L831.3 1253.3L832.3 1254.0L833.2 1258.3L834.2 1260.2L835.2 1259.1L836.1 1261.2L837.1 1263.3L838.1 1262.3L839.0 1264.0L840.0 1265.2L840.9 1264.6L841.9 1263.2L842.9 1265.7L843.8 1265.7L844.8 1265.2L845.8 1264.7L846.7 1265.7L847.7 1264.8L848.6 1263.9L849.6 1263.6L850.6 1263.3L851.5 1263.4L852.5 1263.6L853.5 1264.8L854.4 1264.6L855.4 1264.4L856.4 1265.1L857.3 1263.1L858.3 1264.0L859.2 1263.0L860.2 1264.1L861.2 1263.0L862.1 1263.1L863.1 1263.3L864.1 1264.6L865.0 1265.9L866.0 1264.3L866.9 1265.9L867.9 1264.2L868.9 1264.0L869.8 1264.5L870.8 1263.3L871.8 1264.3L872.7 1264.4L873.7 1265.1L874.6 1262.6L875.6 1264.9L876.6 1264.1L877.5 1264.0L878.5 1262.2L879.5 1264.6L880.4 1262.0L881.4 1262.2L882.4 1261.6L883.3 1262.4L884.3 1260.4L885.2 1260.7L886.2 1256.7L887.2 1256.4L888.1 1253.4L889.1 1249.5L890.1 1244.7L891.0 1235.3L892.0 1220.3L892.9 1200.5L893.9 1166.9L894.9 1128.1L895.8 1076.7L896.8 1017.8L897.8 959.1L898.7 907.5L899.7 873.1L900.3 867.4L900.6 868.5L901.6 895.7L902.6 941.4L903.5 1000.5L904.5 1060.4L905.5 1113.9L906.4 1155.8L907.4 1193.7L908.3 1213.4L909.3 1230.8L910.3 1239.1L911.2 1247.0L912.2 1249.8L913.2 1252.3L914.1 1254.7L915.1 1256.5L916.1 1257.6L917.0 1258.9L918.0 1258.4L918.9 1258.3L919.9 1259.4L920.9 1260.2L921.8 1261.8L922.8 1261.7L923.8 1261.6L924.7 1260.9L925.7 1263.0L926.6 1261.7L927.6 1263.1L928.6 1264.2L929.5 1264.2L930.5 1262.7L931.5 1263.4L932.4 1265.4L933.4 1262.8L934.3 1264.5L935.3 1263.3L936.3 1263.3L937.2 1261.9L938.2 1259.5L939.2 1259.2L940.1 1254.7L941.1 1254.7L942.0 1250.4L943.0 1244.6L944.0 1242.0L944.9 1239.9L945.4 1239.8L945.9 1237.5L946.9 1240.4L947.8 1244.5L948.8 1249.8L949.8 1252.8L950.7 1254.2L951.7 1253.7L952.6 1255.9L953.6 1254.2L954.6 1251.4L955.5 1251.7L956.5 1249.7L957.3 1249.4L958.4 1249.3L959.4 1252.4L960.3 1253.2L961.3 1256.2L962.3 1260.0L963.2 1260.1L964.2 1260.7L965.2 1262.5L966.1 1264.0L967.1 1263.8L968.0 1262.7L969.0 1262.3L970.0 1260.1L970.9 1257.5L971.9 1253.9L972.9 1249.3L973.8 1248.4L974.8 1245.1L975.8 1244.7L976.2 1241.8L976.7 1244.0L977.7 1242.7L978.6 1248.6L979.6 1251.6L980.6 1251.2L981.5 1254.8L982.5 1259.0L983.5 1259.8L984.4 1258.9L985.4 1256.1L986.3 1254.5L987.3 1254.6L988.3 1256.6L988.8 1255.2L989.2 1254.8L990.2 1256.7L991.2 1258.6L992.1 1258.0L993.1 1261.1L994.0 1260.7L995.0 1262.1L996.0 1261.8L996.9 1262.8L997.9 1264.2L998.9 1262.9L999.8 1264.5L1000.8 1263.4L1001.7 1265.5L1002.7 1263.4L1003.7 1263.8L1004.6 1264.4L1005.6 1265.2L1006.6 1265.8L1007.5 1265.6L1008.5 1265.5L1009.5 1264.8L1010.4 1264.0L1011.4 1262.4L1012.3 1260.3L1013.3 1260.6L1014.3 1255.7L1015.2 1251.8L1016.2 1242.9L1017.2 1236.2L1018.1 1225.8L1019.1 1218.4L1020.0 1213.7L1021.3 1208.4L1022.0 1210.8L1022.9 1213.0L1023.9 1222.1L1024.9 1230.7L1025.8 1239.5L1026.8 1246.1L1027.7 1254.1L1028.7 1258.9L1029.7 1261.5L1030.6 1261.0L1031.6 1263.7L1032.6 1264.1L1033.5 1265.3L1034.5 1263.8L1035.4 1266.1L1036.4 1265.3L1037.4 1267.0L1038.3 1264.3L1039.3 1265.6L1040.3 1265.9L1041.2 1267.0L1042.2 1266.8L1043.2 1264.7L1044.1 1265.1L1045.1 1266.2L1046.0 1265.4L1047.0 1264.9L1048.0 1267.1L1048.9 1266.9L1049.9 1265.5L1050.9 1266.1L1051.8 1267.1L1052.8 1265.0L1053.7 1266.7L1054.7 1267.1L1055.7 1266.8L1056.6 1266.5L1057.6 1266.2L1058.6 1265.9L1059.5 1265.9L1060.5 1264.7L1061.4 1265.6L1062.4 1265.8L1063.4 1265.1L1064.3 1265.6L1065.3 1264.8L1066.3 1265.6L1067.2 1265.2L1068.2 1263.4L1069.2 1265.2L1070.1 1263.9L1071.1 1263.2L1072.0 1264.0L1073.0 1265.0L1074.0 1265.7L1074.9 1265.3L1075.9 1264.7L1076.9 1266.1L1077.8 1264.9L1078.8 1266.4L1079.7 1264.5L1080.7 1265.5L1081.7 1264.4L1082.6 1266.0L1083.6 1265.8L1084.6 1265.9L1085.5 1264.5L1086.5 1266.4L1087.4 1265.1L1088.4 1266.4L1089.4 1266.8L1090.3 1264.2L1091.3 1263.8L1092.3 1266.0L1093.2 1266.2L1094.2 1265.8L1095.1 1264.3L1096.1 1265.7L1097.1 1263.6L1098.0 1263.5L1099.0 1265.2L1100.0 1264.8L1100.9 1265.6L1101.9 1263.6L1102.9 1264.2L1103.8 1265.7L1104.8 1263.5L1105.7 1263.5L1106.7 1264.0L1107.7 1264.6L1108.6 1261.2L1109.6 1262.7L1110.6 1260.6L1111.5 1258.7L1112.5 1254.6L1113.4 1250.2L1114.4 1243.2L1115.4 1231.7L1116.3 1218.0L1117.3 1201.9L1118.3 1184.1L1119.2 1163.7L1120.2 1147.4L1121.1 1142.3L1121.5 1138.4L1122.1 1139.2L1123.1 1153.9L1124.0 1167.7L1125.0 1186.3L1126.0 1206.2L1126.9 1222.5L1127.9 1236.1L1128.8 1248.0L1129.8 1252.6L1130.8 1256.2L1131.7 1259.3L1132.7 1263.1L1133.7 1262.3L1134.6 1262.5L1135.6 1264.2L1136.6 1264.8L1137.5 1263.6L1138.5 1264.4L1139.4 1262.8L1140.4 1262.8L1141.4 1263.3L1142.3 1261.8L1143.3 1260.8L1144.3 1259.6L1145.2 1258.2L1146.2 1257.8L1147.1 1253.4L1148.1 1244.8L1149.1 1238.0L1150.0 1230.0L1151.0 1219.4L1152.0 1206.3L1152.9 1197.1L1153.9 1187.4L1154.6 1187.9L1155.8 1194.0L1156.8 1200.7L1157.7 1211.1L1158.7 1221.8L1159.7 1236.0L1160.6 1245.0L1161.6 1249.2L1162.6 1256.4L1163.5 1261.2L1164.5 1260.2L1165.4 1262.0L1166.4 1262.8L1167.4 1264.1L1168.3 1264.2L1169.3 1265.8L1170.3 1263.7L1171.2 1264.3L1172.2 1266.4L1173.1 1264.0L1174.1 1264.8L1175.1 1265.5L1176.0 1264.6L1177.0 1265.4L1178.0 1266.9L1178.9 1266.9L1179.9 1267.0L1180.8 1267.1L1181.8 1267.3L1182.8 1265.4L1183.7 1267.1L1184.7 1267.0L1185.7 1265.7L1186.6 1266.1L1187.6 1265.6L1188.5 1267.6L1189.5 1265.6L1190.5 1265.3L1191.4 1267.1L1192.4 1266.8L1193.4 1267.2L1194.3 1266.5L1195.3 1266.1L1196.3 1266.1L1197.2 1266.5L1198.2 1266.8L1199.1 1267.7L1200.1 1266.0L1201.1 1267.2L1202.0 1265.3L1203.0 1266.0L1204.0 1268.2L1204.9 1266.2L1205.9 1266.9L1206.8 1268.3L1207.8 1267.4L1208.8 1267.0L1209.7 1267.7L1210.7 1268.4L1211.7 1268.1L1212.6 1266.0L1213.6 1266.3L1214.5 1266.8L1215.5 1266.4L1216.5 1268.0L1217.4 1268.3L1218.4 1266.3L1219.4 1266.2L1220.3 1266.8L1221.3 1267.8L1222.3 1268.2L1223.2 1267.3L1224.2 1268.0L1225.1 1268.6L1226.1 1268.6L1227.1 1266.0L1228.0 1267.4L1229.0 1267.1L1230.0 1267.0L1230.9 1264.8L1231.9 1262.9L1232.8 1262.3L1233.8 1259.8L1234.8 1257.5L1235.7 1256.9L1236.7 1254.0L1237.7 1252.3L1238.6 1250.8L1239.5 1248.8L1240.5 1248.3L1241.5 1251.1L1242.5 1255.2L1243.4 1256.5L1244.4 1259.6L1245.4 1261.2L1246.3 1263.8L1247.3 1266.0L1248.2 1266.4L1249.2 1267.6L1250.2 1268.4L1251.1 1267.7L1252.1 1268.2L1253.1 1266.3L1254.0 1266.4L1255.0 1268.8L1256.0 1267.0L1256.9 1267.3L1257.9 1266.8L1258.8 1268.2L1259.8 1266.5L1260.8 1268.5L1261.7 1267.1L1262.7 1267.9L1263.7 1268.1L1264.6 1266.8L1265.6 1265.0L1266.5 1264.7L1267.5 1263.7L1268.5 1261.3L1269.4 1257.2L1270.4 1253.9L1271.4 1254.5L1272.3 1250.6L1273.3 1246.0L1274.2 1246.5L1275.1 1244.9L1276.2 1245.5L1277.1 1249.2L1278.1 1248.5L1279.1 1250.6L1280.0 1254.2L1281.0 1257.1L1281.9 1261.0L1282.9 1262.2L1283.9 1262.1L1284.8 1264.2L1285.8 1264.4L1286.8 1266.9L1287.7 1267.8L1288.7 1265.8L1289.7 1267.0L1290.6 1266.3L1291.6 1266.3L1292.5 1267.6L1293.5 1268.0L1294.5 1266.2L1295.4 1266.9L1296.4 1266.1L1297.4 1265.5L1298.3 1267.0L1299.3 1266.0L1300.2 1267.1L1301.2 1267.3L1302.2 1266.0L1303.1 1267.4L1304.1 1266.1L1305.1 1267.5L1306.0 1266.4L1307.0 1267.5L1307.9 1267.8L1308.9 1267.8L1309.9 1266.9L1310.8 1268.7L1311.8 1267.5L1312.8 1268.4L1313.7 1267.6L1314.7 1267.7L1315.7 1268.1L1316.6 1267.2L1317.6 1268.2L1318.5 1267.8L1319.5 1268.5L1320.5 1268.7L1321.4 1269.4L1322.4 1268.1L1323.4 1268.0L1324.3 1269.5L1325.3 1267.8L1326.2 1266.8L1327.2 1266.9L1328.2 1264.5L1329.1 1265.4L1330.1 1264.2L1331.1 1262.9L1332.0 1261.2L1333.0 1262.5L1333.3 1259.9L1333.9 1262.3L1334.9 1263.0L1335.9 1261.2L1336.8 1264.1L1337.8 1265.0L1338.8 1264.6L1339.7 1264.1L1340.7 1266.2L1341.6 1266.1L1342.6 1265.7L1343.6 1268.4L1344.5 1268.3L1345.5 1267.7L1346.5 1268.2L1347.4 1267.9L1348.4 1267.3L1349.4 1266.2L1350.3 1266.6L1351.3 1267.2L1352.2 1267.0L1353.2 1266.2L1354.2 1265.8L1355.1 1266.4L1356.1 1265.8L1357.1 1267.6L1358.0 1265.4L1359.0 1265.4L1359.9 1265.5L1360.9 1264.4L1361.9 1264.9L1362.8 1264.8L1363.8 1262.9L1364.8 1265.1L1365.7 1263.4L1366.7 1261.7L1367.6 1263.6L1368.6 1259.8L1369.6 1260.0L1370.5 1256.7L1371.5 1251.9L1372.5 1246.4L1373.4 1238.6L1374.4 1226.6L1375.3 1210.8L1376.3 1192.8L1377.3 1171.5L1378.2 1149.8L1379.2 1126.2L1380.2 1108.6L1381.1 1102.6L1381.5 1100.7L1382.1 1102.8L1383.1 1113.5L1384.0 1133.9L1385.0 1151.9L1385.9 1178.1L1386.9 1194.9L1387.9 1213.5L1388.8 1230.2L1389.8 1238.6L1390.8 1248.0L1391.7 1253.2L1392.7 1254.3L1393.6 1258.8L1394.6 1258.9L1395.6 1261.1L1396.5 1258.0L1397.5 1257.8L1398.5 1258.7L1399.4 1255.9L1400.4 1254.7L1401.3 1254.0L1402.3 1247.7L1403.3 1241.2L1404.2 1235.5L1405.2 1230.2L1406.2 1223.2L1407.1 1214.1L1408.1 1203.0L1409.1 1192.2L1410.0 1182.9L1411.0 1176.4L1411.9 1171.7L1412.9 1171.7L1413.9 1172.7L1414.8 1175.7L1415.8 1185.5L1416.8 1193.4L1417.7 1200.6L1418.7 1215.1L1419.6 1224.2L1420.6 1228.9L1421.6 1238.9L1422.5 1243.2L1423.5 1249.0L1424.5 1252.5L1425.4 1255.4L1426.4 1255.9L1427.3 1255.7L1428.3 1257.8L1429.3 1255.4L1430.2 1253.7L1431.2 1253.3L1432.2 1252.0L1433.1 1252.6L1433.5 1251.0L1434.1 1251.3L1435.0 1250.1L1436.0 1252.1L1437.0 1255.1L1437.9 1257.5L1438.9 1260.2L1439.9 1261.6L1440.8 1265.1L1441.8 1264.8L1442.8 1265.3L1443.7 1267.4L1444.7 1267.4L1445.6 1267.7L1446.6 1268.6L1447.6 1268.4L1448.5 1267.3L1449.5 1269.1L1450.5 1266.6L1451.4 1269.2L1452.4 1267.8L1453.3 1267.8L1454.3 1267.9L1455.3 1267.3L1456.2 1268.5L1457.2 1267.8L1458.2 1267.0L1459.1 1265.3L1460.1 1265.4L1461.0 1263.4L1462.0 1264.6L1463.0 1261.3L1463.9 1261.5L1464.9 1259.9L1465.9 1262.0L1466.3 1259.9L1466.8 1260.3L1467.8 1262.8L1468.7 1261.0L1469.7 1263.6L1470.7 1263.3L1471.6 1264.9L1472.6 1266.4L1473.6 1266.5L1474.5 1266.7L1475.5 1268.2L1476.5 1269.3L1477.4 1270.1L1478.4 1268.3L1479.3 1268.3L1480.3 1267.9L1481.3 1268.5L1482.2 1268.0L1483.2 1268.8L1484.2 1270.0L1485.1 1268.5L1486.1 1269.9L1487.0 1269.1L1488.0 1268.8L1489.0 1269.1L1489.9 1269.0L1490.9 1269.1L1491.9 1268.3L1492.8 1269.3L1493.8 1269.9L1494.7 1267.8L1495.7 1267.9L1496.7 1269.0L1497.6 1268.0L1498.6 1267.7L1499.6 1269.5L1500.5 1267.8L1501.5 1269.2L1502.5 1268.2L1503.4 1266.4L1504.4 1266.4L1505.3 1264.9L1506.3 1265.5L1507.3 1265.7L1508.2 1262.7L1509.2 1261.8L1510.2 1261.0L1510.9 1262.4L1512.1 1261.7L1513.0 1264.5L1514.0 1264.7L1515.0 1266.0L1515.9 1265.7L1516.9 1267.1L1517.9 1267.3L1518.8 1266.8L1519.8 1268.0L1520.7 1267.3L1521.7 1267.9L1522.7 1268.9L1523.6 1267.1L1524.6 1266.8L1525.6 1268.0L1526.5 1266.5L1527.5 1265.0L1528.4 1264.4L1529.4 1263.2L1530.4 1263.7L1531.3 1261.4L1532.3 1261.8L1533.3 1259.7L1534.5 1259.9L1535.2 1261.3L1536.2 1260.5L1537.1 1262.2L1538.1 1261.8L1539.0 1262.5L1540.0 1265.2L1541.0 1264.7L1541.9 1266.7L1542.9 1267.6L1543.9 1268.5L1544.8 1269.2L1545.8 1267.8L1546.7 1269.2L1547.7 1268.4L1548.7 1269.0L1549.6 1268.7L1550.6 1269.6L1551.6 1268.4L1552.5 1267.8L1553.5 1269.7L1554.4 1268.8L1555.4 1269.2L1556.4 1267.5L1557.3 1267.0L1558.3 1267.1L1559.3 1265.7L1560.2 1263.3L1561.2 1260.1L1562.1 1256.1L1563.1 1249.3L1564.1 1245.2L1565.0 1239.3L1566.0 1236.5L1567.0 1231.9L1567.9 1230.8L1568.9 1233.0L1569.9 1237.3L1570.8 1241.5L1571.8 1243.5L1572.7 1251.7L1573.7 1255.2L1574.7 1258.0L1575.6 1262.4L1576.6 1266.0L1577.6 1267.3L1578.5 1266.1L1579.5 1266.9L1580.4 1268.2L1581.4 1269.1L1582.4 1266.4L1583.3 1266.3L1584.3 1267.3L1585.3 1266.1L1586.2 1265.6L1587.2 1263.0L1588.1 1262.6L1589.1 1263.0L1590.1 1261.1L1590.7 1261.3L1591.0 1260.3L1592.0 1263.2L1593.0 1262.7L1593.9 1263.8L1594.9 1265.6L1595.9 1267.6L1596.8 1268.7L1597.8 1268.2L1598.7 1269.2L1599.7 1269.2L1600.7 1270.7L1601.6 1270.8L1602.6 1270.7L1603.6 1271.3L1604.5 1270.6L1605.5 1270.7L1606.4 1269.8L1607.4 1271.2L1608.4 1270.2L1609.3 1270.8L1610.3 1269.4L1611.3 1270.3L1612.2 1270.8L1613.2 1271.0L1614.1 1270.6L1615.1 1270.0L1616.1 1270.8L1617.0 1271.0L1618.0 1270.6L1619.0 1270.1L1619.9 1269.4L1620.9 1270.3L1621.8 1269.1L1622.8 1271.1L1623.8 1269.5L1624.7 1269.0L1625.7 1268.9L1626.7 1267.7L1627.6 1269.2L1628.6 1269.0L1629.6 1268.1L1630.5 1266.7L1631.5 1267.2L1632.4 1265.3L1633.3 1265.4L1634.4 1264.9L1635.3 1266.0L1636.3 1268.0L1637.3 1268.0L1638.2 1268.0L1639.2 1268.7L1640.1 1269.4L1641.1 1269.7L1642.1 1269.4L1643.0 1269.9L1644.0 1269.1L1645.0 1269.3L1645.9 1269.2L1646.9 1267.1L1647.8 1266.1L1648.8 1266.2L1649.8 1262.3L1650.7 1259.9L1651.7 1259.1L1652.7 1253.8L1653.6 1252.4L1654.6 1253.1L1655.4 1251.8L1656.5 1253.2L1657.5 1254.7L1658.4 1254.1L1659.4 1257.5L1660.4 1262.4L1661.3 1262.9L1662.3 1264.8L1663.3 1267.9L1664.2 1266.7L1665.2 1269.5L1666.1 1269.2L1667.1 1269.2L1668.1 1267.9L1669.0 1269.4L1670.0 1270.2L1671.0 1269.3L1671.9 1268.7L1672.9 1268.7L1673.8 1268.7L1674.8 1269.6L1675.8 1270.6L1676.7 1268.8L1677.7 1269.5L1678.7 1269.4L1679.6 1269.5L1680.6 1269.9L1681.5 1270.3L1682.5 1269.6L1683.5 1271.0L1684.4 1270.5L1685.4 1270.1L1686.4 1271.6L1687.3 1271.0L1688.3 1269.9L1689.3 1271.6L1690.2 1270.4L1691.2 1269.6L1692.1 1269.2L1693.1 1269.0L1694.1 1269.4L1695.0 1269.5L1696.0 1269.6L1697.0 1271.0L1697.9 1270.2L1698.9 1269.3L1699.8 1269.6L1700.8 1269.4L1701.8 1268.9L1702.7 1269.8L1703.7 1269.8L1704.7 1270.7L1705.6 1270.0L1706.6 1270.9L1707.5 1270.9L1708.5 1269.9L1709.5 1270.8L1710.4 1270.4L1711.4 1269.7L1712.4 1269.5L1713.3 1271.6L1714.3 1269.4L1715.2 1271.2L1716.2 1270.2L1717.2 1269.8L1718.1 1271.5L1719.1 1271.0L1720.1 1270.6L1721.0 1271.8L1722.0 1272.0L1723.0 1271.5L1723.9 1272.1L1724.9 1272.2L1725.8 1270.9L1726.8 1272.2L1727.8 1272.6L1728.7 1272.1L1729.7 1272.3L1730.7 1272.7L1731.6 1272.2L1732.6 1271.5L1733.5 1271.9L1734.5 1272.2L1735.5 1271.5L1736.4 1270.1L1737.4 1270.0L1738.4 1270.7L1739.3 1272.2L1740.3 1271.2L1741.2 1271.5L1742.2 1272.4L1743.2 1270.9L1744.1 1271.4L1745.1 1271.1L1746.1 1270.4L1747.0 1271.7L1748.0 1270.9L1749.0 1271.0L1749.9 1270.8L1750.9 1270.4L1751.8 1271.7L1752.8 1269.9L1753.8 1270.0L1754.7 1270.8L1755.7 1269.9L1756.7 1270.0L1757.6 1269.1L1758.6 1269.6L1759.0 1268.9L1759.5 1269.2L1760.5 1268.0L1761.5 1268.2L1762.4 1269.8L1763.4 1270.3L1764.4 1270.9L1765.3 1270.5L1766.3 1269.6L1767.2 1269.4L1768.2 1268.7L1769.2 1268.0L1770.1 1267.9L1771.1 1265.4L1772.1 1265.0L1773.0 1264.9L1774.0 1262.8L1775.0 1263.4L1775.9 1264.9L1776.9 1262.8L1777.8 1265.9L1778.8 1266.6L1779.8 1265.1L1780.7 1267.6L1781.7 1267.1L1782.7 1267.8L1783.6 1269.8L1784.6 1269.9L1785.5 1270.1L1786.5 1269.8L1787.5 1271.1L1788.4 1269.7L1789.4 1270.3L1790.4 1269.3L1791.3 1267.1L1792.3 1268.0L1793.2 1267.4L1794.2 1267.0L1795.2 1266.0L1796.1 1264.0L1796.5 1265.4L1797.1 1265.4L1798.1 1265.0L1799.0 1265.3L1800.0 1265.9L1800.9 1268.1L1801.9 1267.0L1802.9 1269.9L1803.8 1268.3L1804.8 1270.1L1805.8 1269.4L1806.7 1270.3L1807.7 1269.7L1808.6 1271.1L1809.6 1269.3L1810.6 1269.6L1811.5 1269.2L1812.5 1267.6L1813.5 1265.6L1814.4 1263.5L1815.4 1263.4L1816.4 1258.6L1817.3 1256.1L1818.3 1257.8L1819.1 1256.4L1820.2 1257.3L1821.2 1258.6L1822.1 1262.4L1823.1 1263.1L1824.1 1263.9L1825.0 1266.8L1826.0 1268.4L1826.9 1269.3L1827.9 1271.0L1828.9 1269.8L1829.8 1271.9L1830.8 1271.3L1831.8 1271.7L1832.7 1270.9L1833.7 1270.9L1834.6 1270.9L1835.6 1270.7L1836.6 1271.1L1837.5 1271.4L1838.5 1272.0L1839.5 1270.7L1840.4 1271.4L1841.4 1271.5L1842.4 1272.1L1843.3 1272.0L1844.3 1271.7L1845.2 1271.7L1846.2 1271.3L1847.2 1271.9L1848.1 1271.8L1849.1 1271.0L1850.1 1269.9L1851.0 1270.6L1852.0 1270.1L1852.9 1269.8L1853.9 1270.1L1854.9 1271.3L1855.8 1270.2L1856.8 1270.7L1857.8 1270.6L1858.7 1269.9L1859.7 1270.7L1860.6 1270.5L1861.6 1271.3L1862.6 1270.8L1863.5 1271.4L1864.5 1271.4L1865.5 1270.3L1866.4 1269.4L1867.4 1269.8L1868.3 1269.6L1869.3 1270.9L1870.3 1269.5L1871.2 1270.5L1872.2 1270.0L1873.2 1270.4L1874.1 1271.1L1875.1 1270.4L1876.1 1270.0L1877.0 1270.5L1878.0 1271.7L1878.9 1271.0L1879.9 1270.6L1880.9 1270.2L1881.8 1270.0L1882.8 1270.6L1883.8 1271.0L1884.7 1270.7L1885.7 1271.6L1886.6 1272.1L1887.6 1271.0L1888.6 1270.4L1889.5 1271.3L1890.5 1269.6L1891.5 1271.1L1892.4 1271.7L1893.4 1271.5L1894.3 1269.9L1895.3 1271.1L1896.3 1271.6L1897.2 1270.9L1898.2 1271.8L1899.2 1270.1L1900.1 1271.1L1901.1 1271.2L1902.0 1271.6L1903.0 1270.8L1904.0 1270.6L1904.9 1271.4L1905.9 1270.3L1906.9 1270.6L1907.8 1270.9L1908.8 1271.6L1909.8 1270.9L1910.7 1271.2L1911.7 1271.4L1912.6 1271.7L1913.6 1272.2L1914.6 1271.5L1915.5 1271.6L1916.5 1270.5L1917.5 1271.1L1918.4 1271.6L1919.4 1271.5L1920.3 1272.2L1921.3 1271.3L1922.3 1271.8L1923.2 1272.4L1924.2 1270.8L1925.2 1271.2L1926.1 1271.8L1927.1 1270.8L1928.0 1270.9L1929.0 1271.8L1930.0 1271.3L1930.9 1272.3L1931.9 1271.8L1932.9 1272.3L1933.8 1271.4L1934.8 1271.4L1935.8 1272.3L1936.7 1272.0L1937.7 1272.7L1938.6 1271.3L1939.6 1271.0L1940.6 1272.3L1941.5 1271.2L1942.5 1270.9L1943.5 1271.5L1944.4 1272.2L1945.4 1271.4L1946.3 1271.8L1947.3 1271.0L1948.3 1270.5L1949.2 1271.2L1950.2 1271.3L1951.2 1270.8L1952.1 1272.0L1953.1 1271.0L1954.0 1272.9L1955.0 1272.3L1956.0 1271.5L1956.9 1270.9L1957.9 1271.3L1958.9 1271.6L1959.8 1272.3L1960.8 1272.4L1961.7 1272.4L1962.7 1271.7L1963.7 1272.3L1964.6 1272.2L1965.6 1271.8L1966.6 1271.6L1967.5 1272.0L1968.5 1272.8L1969.5 1271.3L1970.4 1271.9L1971.4 1270.2L1972.3 1270.0L1973.3 1270.5L1974.3 1270.0L1975.2 1268.9L1976.2 1267.8L1977.2 1265.5L1978.1 1266.3L1979.1 1263.9L1980.0 1263.7L1981.0 1262.9L1982.2 1260.6L1982.9 1262.6L1983.9 1260.1L1984.9 1262.5L1985.8 1262.3L1986.8 1263.0L1987.7 1265.3L1988.7 1265.3L1989.7 1267.2L1990.6 1266.1L1991.6 1264.8L1992.6 1262.6L1993.5 1262.9L1994.5 1260.8L1995.4 1259.2L1996.4 1255.6L1997.4 1255.5L1998.6 1252.7L1999.3 1255.2L2000.3 1256.0L2001.2 1255.7L2002.2 1261.3L2003.2 1260.4L2004.1 1264.8L2005.1 1265.6L2006.0 1268.5L2007.0 1269.9L2008.0 1268.9L2008.9 1270.0L2009.9 1271.6L2010.9 1271.1L2011.8 1270.4L2012.8 1270.9L2013.7 1271.2L2014.7 1271.4L2015.7 1272.0L2016.6 1272.9L2017.6 1272.2L2018.6 1271.2L2019.5 1271.6L2020.5 1271.8L2021.4 1271.9L2022.4 1272.2L2023.4 1272.0L2024.3 1272.0L2025.3 1271.7L2026.3 1270.4L2027.2 1272.5L2028.2 1272.5L2029.2 1272.4L2030.1 1271.6L2031.1 1272.4L2032.0 1270.7L2033.0 1272.2L2034.0 1271.9L2034.9 1272.0L2035.9 1270.6L2036.9 1272.4L2037.8 1270.5L2038.8 1270.9L2039.7 1271.7L2040.7 1271.6L2041.7 1270.9L2042.6 1270.8L2043.6 1272.1L2044.6 1270.6L2045.5 1271.2L2046.5 1270.5L2047.4 1271.4L2048.4 1271.9L2049.4 1272.1L2050.3 1271.1L2051.3 1271.2L2052.3 1272.0L2053.2 1272.9L2054.2 1272.2L2055.1 1270.8L2056.1 1270.6L2057.1 1271.0L2058.0 1271.3L2059.0 1270.7L2060.0 1271.6L2060.9 1270.6L2061.9 1270.4L2062.9 1271.6L2063.8 1271.9L2064.8 1270.9L2065.7 1270.9L2066.7 1271.0L2067.7 1270.6L2068.6 1272.0L2069.6 1270.6L2070.6 1272.0L2071.5 1272.1L2072.5 1271.5L2073.4 1270.1L2074.4 1270.0L2075.4 1270.6L2076.3 1270.4L2077.3 1269.1L2078.3 1268.7L2079.2 1270.0L2080.2 1268.6L2081.1 1269.2L2082.1 1267.4L2083.1 1266.9L2084.0 1268.6L2084.7 1268.4L2086.0 1267.2L2086.9 1267.6L2087.9 1268.7L2088.9 1268.0L2089.8 1268.9L2090.8 1268.1L2091.7 1269.4L2092.7 1268.1L2093.7 1269.1L2094.6 1269.0L2095.6 1269.3L2096.6 1270.7L2097.5 1270.2L2098.5 1271.3L2099.4 1272.0L2100.4 1270.2L2101.4 1271.3L2102.3 1271.9L2103.3 1270.9L2104.3 1270.4L2105.2 1271.3L2106.2 1271.3L2107.1 1271.7L2108.1 1271.4L2109.1 1271.0L2110.0 1270.6L2111.0 1271.1L2112.0 1271.6L2112.9 1271.4L2113.9 1271.7L2114.8 1272.8L2115.8 1272.1L2116.8 1271.8L2117.7 1273.2L2118.7 1272.5L2119.7 1273.2L2120.6 1273.3L2121.6 1272.6L2122.6 1273.7L2123.5 1273.4L2124.5 1274.0L2125.4 1271.9L2126.4 1272.8L2127.4 1272.4L2128.3 1272.2L2129.3 1272.9L2130.3 1271.9L2131.2 1272.1L2132.2 1271.5L2133.1 1272.2L2134.1 1272.1L2135.1 1271.2L2136.0 1271.9L2137.0 1272.1L2138.0 1272.6L2138.9 1271.5L2139.9 1272.5L2140.8 1272.6L2141.8 1271.5L2142.8 1270.7L2143.7 1270.8L2144.7 1272.1L2145.7 1271.5L2146.6 1270.3L2147.6 1269.9L2148.5 1271.2L2149.5 1270.7L2150.5 1270.2L2151.4 1268.8L2152.4 1270.6L2153.4 1268.3L2154.3 1268.3L2155.3 1267.9L2156.3 1269.6L2157.0 1268.4L2158.2 1268.6L2159.1 1268.2L2160.1 1269.4L2161.1 1269.2L2162.0 1269.6L2163.0 1269.2L2164.0 1270.6L2164.9 1269.4L2165.9 1271.3L2166.8 1271.5L2167.8 1270.4L2168.8 1269.8L2169.7 1270.1L2170.7 1270.2L2171.7 1271.6L2172.6 1271.3L2173.6 1272.7L2174.5 1271.4L2175.5 1271.5L2176.5 1272.5L2177.4 1273.1L2178.4 1272.6L2179.4 1271.6L2180.3 1271.5L2181.3 1272.5L2182.3 1272.8L2183.2 1273.2L2184.2 1272.3L2185.1 1272.5L2186.1 1272.1L2187.1 1271.3L2188.0 1271.3L2189.0 1269.4L2190.0 1268.3L2190.9 1267.3L2191.9 1266.4L2192.8 1266.9L2193.8 1265.2L2194.8 1263.0L2195.7 1261.9L2196.7 1258.3L2197.7 1259.2L2198.6 1258.3L2199.8 1255.9L2200.5 1255.8L2201.5 1256.0L2202.5 1256.5L2203.4 1260.4L2204.4 1260.5L2205.4 1263.6L2206.3 1264.2L2207.3 1264.2L2208.2 1266.3L2209.2 1268.0L2210.2 1268.1L2211.1 1268.6L2212.1 1268.3L2213.1 1269.4L2214.0 1270.5L2215.0 1268.8L2216.0 1270.6L2216.9 1270.1L2217.9 1269.7L2218.8 1270.9L2219.8 1271.1L2220.8 1271.5L2221.7 1270.6L2222.7 1270.5L2223.7 1271.2L2224.6 1271.8L2225.6 1270.8L2226.5 1270.9L2227.5 1270.8L2228.5 1269.7L2229.4 1271.5L2230.4 1270.7L2231.4 1270.6L2232.3 1270.7L2233.3 1271.3L2234.2 1271.0L2235.2 1270.2L2236.2 1270.1L2237.1 1269.8L2238.1 1270.2L2239.1 1270.7L2240.0 1268.8L2241.0 1270.2L2241.9 1271.0L2242.9 1270.5L2243.9 1270.2L2244.8 1270.3L2245.8 1270.5L2246.8 1271.0L2247.7 1269.9L2248.7 1271.7L2249.7 1270.8L2250.6 1270.2L2251.6 1271.5L2252.5 1270.3L2253.5 1271.0L2254.5 1270.0L2255.4 1270.1L2256.4 1268.8L2257.4 1268.3L2258.3 1267.6L2259.3 1265.4L2260.2 1265.6L2261.2 1262.7L2262.2 1260.0L2263.1 1257.7L2264.1 1253.7L2265.1 1251.7L2266.0 1250.2L2267.0 1248.6L2267.9 1249.5L2268.9 1252.6L2269.9 1255.7L2270.8 1258.8L2271.8 1260.1L2272.8 1263.9L2273.7 1265.9L2274.7 1267.1L2275.7 1267.0L2276.6 1269.2L2277.6 1269.7L2278.5 1270.7L2279.5 1270.0L2280.5 1271.8L2281.4 1270.3L2282.4 1271.9L2283.4 1270.4L2284.3 1271.0L2285.3 1271.7L2286.2 1270.4L2287.2 1271.0L2288.2 1271.6L2289.1 1271.9L2290.1 1272.1L2291.1 1271.2L2292.0 1271.8L2293.0 1270.2L2293.9 1270.8L2294.9 1271.1L2295.9 1269.5L2296.8 1271.0L2297.8 1270.9L2298.8 1270.1L2299.7 1270.6L2300.7 1269.7L2301.6 1268.6L2302.6 1269.2L2303.6 1267.9L2304.5 1267.5L2305.5 1267.5"/>
<path class="cv" stroke="#FF4444" d="M139.0 846.1L140.0 846.1L140.9 839.9L141.9 846.5L142.9 842.6L143.8 844.7L144.8 850.6L145.7 841.8L146.7 842.8L147.7 842.1L148.6 849.8L149.6 848.6L150.6 843.9L151.5 842.8L152.5 848.4L153.4 842.7L154.4 843.4L155.4 848.1L156.3 841.8L157.3 844.2L158.3 846.3L159.2 847.0L160.2 844.6L161.1 850.7L162.1 848.9L163.1 841.4L164.0 844.6L165.0 842.1L166.0 850.6L166.9 843.2L167.9 846.9L168.8 851.5L169.8 848.0L170.8 845.0L171.7 848.1L172.7 849.5L173.7 852.3L174.6 854.8L175.6 853.1L176.6 847.6L177.5 856.7L178.5 852.6L179.4 855.9L180.4 850.6L181.4 849.1L182.3 852.4L183.3 857.6L184.3 859.5L185.2 856.2L186.2 859.0L187.1 858.6L188.1 852.0L189.1 855.5L190.0 854.8L191.0 861.1L192.0 855.5L192.9 858.7L193.9 857.3L194.8 864.3L195.8 864.5L196.8 862.6L197.7 859.3L198.7 864.6L199.7 863.4L200.6 864.3L201.6 867.3L202.6 865.3L203.5 863.1L204.5 860.9L205.4 864.6L206.4 863.3L207.4 863.6L208.3 864.1L209.3 865.1L210.3 867.9L211.2 867.1L212.2 871.9L213.1 870.4L214.1 867.9L215.1 871.9L216.0 868.0L217.0 876.5L218.0 874.9L218.9 873.6L219.9 874.5L220.8 869.7L221.8 872.9L222.8 871.7L223.7 876.9L224.7 876.9L225.7 879.9L226.6 880.5L227.6 880.8L228.5 874.3L229.5 874.6L230.5 878.0L231.4 878.3L232.4 878.2L233.4 878.0L234.3 874.7L235.3 879.8L236.3 874.0L237.2 877.2L238.2 876.9L239.1 878.8L240.1 875.4L241.1 880.7L242.0 875.1L243.0 882.7L244.0 880.8L244.9 882.7L245.9 881.8L246.8 882.4L247.8 882.9L248.8 876.7L249.7 875.8L250.7 876.9L251.7 878.4L252.6 877.8L253.6 877.4L254.5 877.8L255.5 878.1L256.5 878.8L257.4 883.3L258.4 885.5L259.4 885.3L260.3 880.1L261.3 880.9L262.2 883.9L263.2 881.7L264.2 883.3L265.1 888.3L266.1 884.0L267.1 884.2L268.0 887.0L269.0 887.5L270.0 882.5L270.9 889.2L271.9 884.1L272.8 890.5L273.8 884.4L274.8 890.5L275.7 888.9L276.7 891.9L277.7 886.9L278.6 890.4L279.6 886.6L280.5 886.9L281.5 893.4L282.5 893.2L283.4 890.1L284.4 893.9L285.4 891.4L286.3 892.9L287.3 892.4L288.2 894.1L289.2 892.1L290.2 893.4L291.1 891.3L292.1 892.2L293.1 892.1L294.0 891.5L295.0 896.6L296.0 893.2L296.9 895.9L297.9 899.0L298.8 895.3L299.8 899.1L300.8 894.8L301.7 898.4L302.7 899.5L303.7 896.6L304.6 895.4L305.6 894.3L306.5 895.7L307.5 902.5L308.5 898.1L309.4 898.1L310.4 896.6L311.4 900.2L312.3 900.2L313.3 902.8L314.2 902.1L315.2 903.0L316.2 900.1L317.1 903.7L318.1 901.6L319.1 903.8L320.0 899.6L321.0 901.5L321.9 901.8L322.9 904.5L323.9 902.3L324.8 906.2L325.8 905.6L326.8 903.9L327.7 903.5L328.7 904.2L329.7 906.9L330.6 903.2L331.6 903.7L332.5 901.4L333.5 904.9L334.5 908.2L335.4 904.6L336.4 907.2L337.4 904.7L338.3 907.1L339.3 903.2L340.2 905.1L341.2 905.4L342.2 908.9L343.1 908.3L344.1 907.6L345.1 907.6L346.0 906.4L347.0 908.3L347.9 907.6L348.9 907.6L349.9 909.0L350.8 902.8L351.8 907.4L352.8 902.6L353.7 898.1L354.7 896.5L355.7 890.9L356.6 877.2L357.6 864.8L358.5 845.1L359.5 811.1L360.5 761.2L361.4 699.9L362.4 615.8L363.4 519.5L364.3 413.3L365.3 314.6L366.2 232.7L367.5 190.6L368.2 203.0L369.1 261.6L370.1 348.4L371.1 451.7L372.0 556.7L373.0 648.2L373.9 725.5L374.9 782.0L375.9 822.4L376.8 856.6L377.8 872.7L378.8 883.5L379.7 892.9L380.7 893.6L381.6 896.4L382.6 904.7L383.6 900.8L384.5 908.8L385.5 904.6L386.5 906.0L387.4 907.4L388.4 911.1L389.4 909.4L390.3 913.7L391.3 910.1L392.2 911.7L393.2 911.3L394.2 911.3L395.1 911.0L396.1 913.0L397.1 915.2L398.0 912.2L399.0 914.7L399.9 910.9L400.9 916.4L401.9 910.2L402.8 909.9L403.8 910.1L404.8 910.4L405.7 910.8L406.7 911.6L407.6 915.5L408.6 916.0L409.6 911.7L410.5 910.8L411.5 915.4L412.5 913.1L413.4 911.7L414.4 913.3L415.3 913.1L416.3 917.8L417.3 915.4L418.2 917.3L419.2 918.3L420.2 915.0L421.1 918.4L422.1 917.7L423.1 913.6L424.0 919.0L425.0 917.1L425.9 917.5L426.9 913.9L427.9 914.3L428.8 916.3L429.8 915.3L430.8 918.7L431.7 918.8L432.7 916.0L433.6 919.3L434.6 916.4L435.6 918.1L436.5 919.4L437.5 916.8L438.5 917.8L439.4 921.0L440.4 919.9L441.3 919.3L442.3 921.7L443.3 922.1L444.2 924.1L445.2 920.9L446.2 918.7L447.1 921.6L448.1 923.4L449.1 920.4L450.0 921.2L451.0 924.6L451.9 923.0L452.9 923.0L453.9 924.6L454.8 922.0L455.8 923.2L456.8 923.5L457.7 920.8L458.7 924.1L459.6 921.1L460.6 924.6L461.6 925.6L462.5 925.8L463.5 923.2L464.5 924.5L465.4 925.7L466.4 924.0L467.3 925.9L468.3 926.4L469.3 925.6L470.2 924.6L471.2 928.5L472.2 926.7L473.1 925.6L474.1 925.1L475.0 926.7L476.0 929.0L477.0 926.8L477.9 929.4L478.9 928.7L479.9 927.5L480.8 926.3L481.8 927.0L482.8 928.1L483.7 930.9L484.7 931.7L485.6 931.6L486.6 930.6L487.6 930.3L488.5 931.8L489.5 926.5L490.5 929.0L491.4 929.8L492.4 930.2L493.3 928.6L494.3 931.3L495.3 928.9L496.2 932.8L497.2 932.2L498.2 930.5L499.1 931.9L500.1 928.5L501.0 928.9L502.0 932.3L503.0 930.3L503.9 928.1L504.9 928.3L505.9 931.2L506.8 931.6L507.8 930.3L508.7 928.7L509.7 930.7L510.7 932.1L511.6 931.8L512.6 931.4L513.6 927.5L514.5 926.9L515.5 925.6L516.5 926.0L517.4 926.6L518.4 922.5L519.3 920.5L520.3 918.8L521.3 906.3L522.2 894.9L523.2 876.5L524.2 857.9L525.1 825.5L526.1 785.5L527.0 745.5L528.0 707.4L529.0 677.9L530.0 666.0L530.9 674.8L531.9 701.9L532.8 738.5L533.8 780.0L534.7 821.0L535.7 850.1L536.7 875.3L537.6 897.3L538.6 909.3L539.6 919.4L540.5 921.8L541.5 928.1L542.5 927.8L543.4 930.6L544.4 928.9L545.3 929.3L546.3 930.5L547.3 931.5L548.2 933.2L549.2 934.2L550.2 936.4L551.1 932.4L552.1 935.0L553.0 935.4L554.0 933.7L555.0 934.4L555.9 936.2L556.9 936.8L557.9 938.4L558.8 935.1L559.8 934.4L560.7 937.9L561.7 936.4L562.7 937.1L563.6 934.8L564.6 932.9L565.6 932.8L566.5 934.6L567.5 934.1L568.4 930.3L569.4 928.3L570.4 920.0L571.3 919.2L572.3 908.7L573.3 904.3L574.2 897.1L575.2 890.1L576.2 886.1L576.5 888.1L577.1 888.0L578.1 886.5L579.0 890.2L580.0 894.9L581.0 894.8L581.9 897.6L582.9 891.9L583.9 894.7L584.8 887.7L586.0 889.1L586.7 896.1L587.7 896.7L588.7 902.7L589.6 911.3L590.6 918.8L591.6 920.9L592.5 925.5L593.5 932.2L594.4 936.0L595.4 936.0L596.4 939.9L597.3 940.2L598.3 937.4L599.3 940.2L600.2 940.3L601.2 940.7L602.1 938.8L603.1 941.5L604.1 941.3L605.0 939.7L606.0 942.2L607.0 939.8L607.9 942.8L608.9 939.6L609.9 940.5L610.8 942.0L611.8 940.4L612.7 942.9L613.7 943.3L614.7 944.0L615.6 941.9L616.6 940.4L617.6 940.8L618.5 943.0L619.5 943.4L620.4 941.3L621.4 943.7L622.4 943.9L623.3 944.0L624.3 940.9L625.3 941.8L626.2 942.9L627.2 940.5L628.1 940.7L629.1 943.1L630.1 944.4L631.0 941.5L632.0 940.7L633.0 943.2L633.9 943.0L634.9 940.4L635.9 943.6L636.8 944.2L637.8 942.2L638.7 940.9L639.7 944.3L640.7 941.8L641.6 940.8L642.6 940.6L643.6 941.9L644.5 941.9L645.5 944.1L646.4 944.0L647.4 941.3L648.4 942.1L649.3 940.9L650.3 941.1L651.3 942.5L652.2 942.7L653.2 943.3L654.1 943.6L655.1 942.1L656.1 944.3L657.0 944.6L658.0 943.6L659.0 941.5L659.9 941.6L660.9 944.9L661.8 941.6L662.8 943.1L663.8 943.3L664.7 940.9L665.7 941.8L666.7 942.2L667.6 940.5L668.6 939.3L669.6 940.8L670.5 939.8L671.5 936.5L672.4 936.3L673.4 927.3L674.4 922.4L675.3 916.2L676.3 898.5L677.3 884.2L678.2 864.6L679.2 849.7L680.1 833.3L681.1 823.4L681.6 821.3L682.1 819.4L683.0 829.7L684.0 843.6L685.0 863.5L685.9 880.6L686.9 901.2L687.8 910.9L688.8 923.6L689.8 932.5L690.7 935.9L691.7 938.2L692.7 939.0L693.6 940.7L694.6 942.1L695.5 943.4L696.5 942.7L697.5 943.4L698.4 942.6L699.4 946.2L700.4 944.0L701.3 946.6L702.3 946.7L703.3 943.1L704.2 946.6L705.2 943.4L706.1 946.4L707.1 943.7L708.1 946.5L709.0 947.6L710.0 944.6L711.0 945.6L711.9 944.8L712.9 944.0L713.8 947.7L714.8 947.5L715.8 946.3L716.7 947.3L717.7 946.6L718.7 947.8L719.6 946.8L720.6 946.6L721.5 947.6L722.5 948.3L723.5 948.5L724.4 946.9L725.4 948.7L726.4 948.1L727.3 945.1L728.3 947.5L729.3 945.1L730.2 948.1L731.2 945.5L732.1 947.2L733.1 947.7L734.1 946.3L735.0 945.4L736.0 947.4L737.0 945.9L737.9 944.3L738.9 946.5L739.8 947.3L740.8 945.9L741.8 947.0L742.7 944.3L743.7 945.9L744.7 946.8L745.6 945.2L746.6 943.5L747.5 943.0L748.5 945.1L749.5 943.8L750.4 946.1L751.4 944.5L752.4 945.4L753.3 945.7L754.3 943.9L755.2 943.5L756.2 942.2L757.2 939.0L758.1 941.1L759.1 938.8L760.1 935.3L761.0 927.3L762.0 916.6L763.0 909.7L763.9 894.7L764.9 873.9L765.8 857.6L766.8 836.7L767.8 820.8L768.7 810.7L769.6 806.6L770.7 811.4L771.6 825.3L772.6 839.4L773.5 858.7L774.5 881.9L775.5 898.7L776.4 908.4L777.4 923.4L778.4 927.5L779.3 934.1L780.3 937.6L781.2 940.0L782.2 940.0L783.2 943.6L784.1 943.4L785.1 944.2L786.1 943.3L787.0 947.4L788.0 943.6L789.0 947.5L789.9 947.1L790.9 946.6L791.8 948.7L792.8 948.2L793.8 946.1L794.7 948.1L795.7 947.6L796.7 947.1L797.6 947.5L798.6 946.4L799.5 946.4L800.5 948.4L801.5 947.4L802.4 945.6L803.4 946.0L804.4 945.3L805.3 947.6L806.3 945.8L807.2 948.2L808.2 948.2L809.2 946.1L810.1 947.8L811.1 947.3L812.1 946.7L813.0 946.8L814.0 946.3L814.9 948.2L815.9 946.5L816.9 947.1L817.8 945.7L818.8 947.0L819.8 946.4L820.7 942.9L821.7 944.3L822.7 944.1L823.6 942.1L824.6 936.8L825.5 936.2L826.5 934.0L827.2 936.0L828.4 936.6L829.4 936.7L830.4 937.1L831.3 939.8L832.3 944.4L833.2 944.5L834.2 946.2L835.2 946.5L836.1 946.6L837.1 948.8L838.1 949.0L839.0 949.7L840.0 950.9L840.9 950.4L841.9 951.0L842.9 951.1L843.8 948.5L844.8 949.6L845.8 949.7L846.7 950.8L847.7 950.2L848.6 951.3L849.6 948.7L850.6 948.7L851.5 950.1L852.5 950.0L853.5 950.6L854.4 950.0L855.4 949.0L856.4 950.6L857.3 949.8L858.3 950.2L859.2 950.4L860.2 948.0L861.2 949.4L862.1 947.6L863.1 947.4L864.1 947.7L865.0 949.6L866.0 949.8L866.9 948.1L867.9 949.5L868.9 947.3L869.8 947.9L870.8 946.6L871.8 948.8L872.7 948.3L873.7 946.0L874.6 947.7L875.6 947.5L876.6 946.7L877.5 946.7L878.5 948.1L879.5 946.9L880.4 947.2L881.4 945.2L882.4 945.9L883.3 942.9L884.3 944.2L885.2 945.6L886.2 944.4L887.2 940.6L888.1 941.0L889.1 940.1L890.1 936.2L891.0 932.1L892.0 924.4L892.9 912.9L893.9 899.5L894.9 871.6L895.8 835.3L896.8 787.7L897.8 733.9L898.7 674.0L899.7 615.7L900.6 568.5L901.8 547.8L902.6 557.0L903.5 592.9L904.5 648.2L905.5 710.0L906.4 769.4L907.4 815.4L908.3 860.5L909.3 887.8L910.3 906.8L911.2 920.7L912.2 927.8L913.2 935.2L914.1 935.1L915.1 940.5L916.1 942.6L917.0 944.1L918.0 945.9L918.9 945.6L919.9 943.1L920.9 944.5L921.8 946.7L922.8 944.4L923.8 947.4L924.7 948.0L925.7 947.6L926.6 946.1L927.6 945.6L928.6 948.4L929.5 947.2L930.5 948.6L931.5 948.4L932.4 947.3L933.4 948.6L934.3 949.4L935.3 947.3L936.3 946.4L937.2 948.3L938.2 946.1L939.2 946.7L940.1 945.6L941.1 944.5L942.0 943.9L943.0 940.1L944.0 938.1L944.9 934.4L945.9 932.3L946.9 932.6L947.8 935.7L948.8 934.0L949.8 936.0L950.7 939.4L951.7 943.4L952.6 943.8L953.6 943.8L954.6 945.4L955.5 944.6L956.5 947.0L957.5 944.0L958.4 945.4L959.4 945.7L960.0 944.6L960.3 945.2L961.3 944.3L962.3 944.1L963.2 944.9L964.2 944.5L965.2 944.3L966.1 944.0L967.1 941.1L968.0 938.5L969.0 934.6L970.0 933.9L970.9 933.2L971.9 932.0L972.2 930.7L972.9 932.4L973.8 931.2L974.8 932.2L975.8 935.1L976.7 940.8L977.7 940.2L978.6 943.7L979.6 945.3L980.6 943.4L981.5 945.8L982.5 941.9L983.5 941.8L984.4 940.3L985.4 937.3L986.3 934.9L987.2 936.3L988.3 938.3L989.2 936.6L990.2 939.5L991.2 941.5L992.1 945.6L993.1 945.4L994.0 947.0L995.0 948.1L996.0 948.8L996.9 950.1L997.9 950.5L998.9 948.4L999.8 949.4L1000.8 951.4L1001.7 950.1L1002.7 949.1L1003.7 949.7L1004.6 950.0L1005.6 951.0L1006.6 950.0L1007.5 949.9L1008.5 948.4L1009.5 949.4L1010.4 949.9L1011.4 948.7L1012.3 944.9L1013.3 944.2L1014.3 939.9L1015.2 935.8L1016.2 930.7L1017.2 924.3L1018.1 917.9L1019.1 906.1L1020.0 905.1L1020.9 902.0L1022.0 905.1L1022.9 908.6L1023.9 918.5L1024.9 922.8L1025.8 931.6L1026.8 935.6L1027.7 943.2L1028.7 944.3L1029.7 947.7L1030.6 947.5L1031.6 947.6L1032.6 948.6L1033.5 950.6L1034.5 948.6L1035.4 950.7L1036.4 951.1L1037.4 951.6L1038.3 951.6L1039.3 948.2L1040.3 950.0L1041.2 948.4L1042.2 951.1L1043.2 951.4L1044.1 951.5L1045.1 950.9L1046.0 951.7L1047.0 950.6L1048.0 948.6L1048.9 951.6L1049.9 948.9L1050.9 949.5L1051.8 952.0L1052.8 949.8L1053.7 950.9L1054.7 950.0L1055.7 951.0L1056.6 952.5L1057.6 951.6L1058.6 949.4L1059.5 951.7L1060.5 950.3L1061.4 949.6L1062.4 951.0L1063.4 950.7L1064.3 948.6L1065.3 950.3L1066.3 950.7L1067.2 948.9L1068.2 952.0L1069.2 951.4L1070.1 950.1L1071.1 951.0L1072.0 951.7L1073.0 950.4L1074.0 950.2L1074.9 952.0L1075.9 950.2L1076.9 949.9L1077.8 951.1L1078.8 950.7L1079.7 952.3L1080.7 951.6L1081.7 950.9L1082.6 949.8L1083.6 951.6L1084.6 949.1L1085.5 951.6L1086.5 951.7L1087.4 950.8L1088.4 949.1L1089.4 951.5L1090.3 949.3L1091.3 951.4L1092.3 949.1L1093.2 949.5L1094.2 950.1L1095.1 949.0L1096.1 948.8L1097.1 949.5L1098.0 948.0L1099.0 948.6L1100.0 948.4L1100.9 949.2L1101.9 946.7L1102.9 946.5L1103.8 944.1L1104.8 943.4L1105.7 939.8L1106.7 931.4L1107.7 928.1L1108.6 912.9L1109.6 904.8L1110.6 884.6L1111.5 867.8L1112.5 851.9L1113.4 836.1L1114.4 823.5L1115.3 822.7L1116.3 825.4L1117.3 837.0L1118.3 850.9L1119.2 872.0L1120.2 889.8L1121.1 906.3L1122.1 914.4L1123.1 928.2L1124.0 935.0L1125.0 941.5L1126.0 943.7L1126.9 943.4L1127.9 946.2L1128.8 947.9L1129.8 950.0L1130.8 948.1L1131.7 950.2L1132.7 948.4L1133.7 947.7L1134.6 949.4L1135.6 949.1L1136.6 950.2L1137.5 951.1L1138.5 949.4L1139.4 949.4L1140.4 949.2L1141.4 948.5L1142.3 949.9L1143.3 948.5L1144.3 949.6L1145.2 950.0L1146.2 949.6L1147.1 949.0L1148.1 945.6L1149.1 943.0L1150.0 939.2L1151.0 933.4L1152.0 925.1L1152.9 915.6L1153.9 908.6L1154.8 896.0L1155.8 880.3L1156.8 874.8L1157.8 870.0L1158.7 872.5L1159.7 878.3L1160.6 894.3L1161.6 902.8L1162.6 915.5L1163.5 924.2L1164.5 934.2L1165.4 940.2L1166.4 943.0L1167.4 944.4L1168.3 947.6L1169.3 949.2L1170.3 949.3L1171.2 949.9L1172.2 949.2L1173.1 948.7L1174.1 949.0L1175.1 951.7L1176.0 951.0L1177.0 951.4L1178.0 949.7L1178.9 951.7L1179.9 950.4L1180.8 953.1L1181.8 952.3L1182.8 953.4L1183.7 951.9L1184.7 951.0L1185.7 953.1L1186.6 951.4L1187.6 951.7L1188.5 954.3L1189.5 951.7L1190.5 954.0L1191.4 953.9L1192.4 951.3L1193.4 953.6L1194.3 952.1L1195.3 954.1L1196.3 954.0L1197.2 955.0L1198.2 952.2L1199.1 952.1L1200.1 952.4L1201.1 952.5L1202.0 952.6L1203.0 954.7L1204.0 952.8L1204.9 952.7L1205.9 954.8L1206.8 955.2L1207.8 955.3L1208.8 954.9L1209.7 955.4L1210.7 955.2L1211.7 953.0L1212.6 953.1L1213.6 953.3L1214.5 954.8L1215.5 954.8L1216.5 953.7L1217.4 954.3L1218.4 954.2L1219.4 953.8L1220.3 952.4L1221.3 952.0L1222.3 954.8L1223.2 952.1L1224.2 954.0L1225.1 952.5L1226.1 953.3L1227.1 951.5L1228.0 953.8L1229.0 953.1L1230.0 953.0L1230.9 952.1L1231.9 949.9L1232.8 950.9L1233.8 950.3L1234.8 946.1L1235.7 944.0L1236.7 942.0L1237.7 941.9L1238.6 936.5L1239.6 934.9L1240.5 936.8L1241.5 937.7L1242.5 939.1L1243.4 940.4L1244.4 943.6L1245.4 944.4L1246.3 948.5L1247.3 949.8L1248.2 950.9L1249.2 951.7L1250.2 950.5L1251.1 953.3L1252.1 953.4L1253.1 951.0L1254.0 953.0L1255.0 952.7L1256.0 953.4L1256.9 952.4L1257.9 951.5L1258.8 951.6L1259.8 951.3L1260.8 951.1L1261.7 949.5L1262.7 947.0L1263.7 943.4L1264.6 942.3L1265.6 938.1L1266.5 933.9L1267.5 933.3L1268.5 931.9L1269.7 929.0L1270.4 929.0L1271.4 932.6L1272.3 933.0L1273.3 938.0L1274.2 937.9L1275.2 941.8L1276.2 944.9L1277.1 947.6L1278.1 950.9L1279.1 951.3L1280.0 951.3L1281.0 951.5L1281.9 953.5L1282.9 954.0L1283.9 954.5L1284.8 955.0L1285.8 954.9L1286.8 954.9L1287.7 955.2L1288.7 953.9L1289.7 953.1L1290.6 956.2L1291.6 953.9L1292.5 954.1L1293.5 952.9L1294.5 952.6L1295.4 952.1L1296.4 953.5L1297.4 953.8L1298.3 954.4L1299.3 953.7L1300.2 954.1L1301.2 953.4L1302.2 953.7L1303.1 954.5L1304.1 955.7L1305.1 954.9L1306.0 954.4L1307.0 954.7L1307.9 954.0L1308.9 955.1L1309.9 952.7L1310.8 952.5L1311.8 953.5L1312.8 954.7L1313.7 954.4L1314.7 951.9L1315.7 952.5L1316.6 951.9L1317.6 953.6L1318.5 954.8L1319.5 953.3L1320.5 951.7L1321.4 952.7L1322.4 953.4L1323.4 952.3L1324.3 953.5L1325.3 951.0L1326.2 951.6L1327.2 951.2L1328.2 947.7L1329.1 947.0L1330.1 947.4L1331.1 943.2L1332.0 944.9L1333.0 942.4L1333.4 943.8L1333.9 944.7L1334.9 942.7L1335.9 943.4L1336.8 944.9L1337.8 947.2L1338.8 948.7L1339.7 951.4L1340.7 952.8L1341.6 951.0L1342.6 954.3L1343.6 953.8L1344.5 953.9L1345.5 953.9L1346.5 955.1L1347.4 953.2L1348.4 953.3L1349.4 953.4L1350.3 954.5L1351.3 953.2L1352.2 954.5L1353.2 953.9L1354.2 954.3L1355.1 953.3L1356.1 953.3L1357.1 952.4L1358.0 954.3L1359.0 953.3L1359.9 955.2L1360.9 954.2L1361.9 955.1L1362.8 954.9L1363.8 952.3L1364.8 954.0L1365.7 953.2L1366.7 952.9L1367.6 951.6L1368.6 951.8L1369.6 949.6L1370.5 951.5L1371.5 951.0L1372.5 949.2L1373.4 945.2L1374.4 946.0L1375.3 940.8L1376.3 930.5L1377.3 923.6L1378.2 908.4L1379.2 885.8L1380.2 859.7L1381.1 831.7L1382.1 802.3L1383.1 783.2L1384.0 776.8L1385.0 785.3L1385.9 804.0L1386.9 830.4L1387.9 860.4L1388.8 885.6L1389.8 901.3L1390.8 920.3L1391.7 927.7L1392.7 935.7L1393.6 934.6L1394.6 936.6L1395.6 927.7L1396.5 922.2L1397.5 913.5L1398.5 909.2L1399.3 902.9L1400.4 905.6L1401.3 908.4L1402.3 909.1L1403.3 909.4L1404.2 901.3L1405.2 894.3L1406.2 884.8L1407.1 871.3L1408.1 862.7L1408.6 863.1L1409.1 862.9L1410.0 871.0L1411.0 882.8L1411.9 899.0L1412.9 909.1L1413.9 921.9L1414.8 931.9L1415.8 941.3L1416.8 944.5L1417.7 945.7L1418.7 950.4L1419.6 948.8L1420.6 950.8L1421.6 952.6L1422.5 952.7L1423.5 951.0L1424.5 949.9L1425.4 948.1L1426.4 948.6L1427.3 944.8L1428.3 943.7L1429.3 942.3L1430.2 940.8L1431.2 939.4L1432.2 938.2L1433.1 938.9L1434.1 940.7L1435.0 939.9L1436.0 944.6L1437.0 947.8L1437.9 948.2L1438.9 948.4L1439.9 950.5L1440.8 953.2L1441.8 952.9L1442.8 954.5L1443.7 954.9L1444.7 954.3L1445.6 954.4L1446.6 954.9L1447.6 955.7L1448.5 955.0L1449.5 956.8L1450.5 955.6L1451.4 957.0L1452.4 955.9L1453.3 956.4L1454.3 955.2L1455.3 957.1L1456.2 953.7L1457.2 956.3L1458.2 953.4L1459.1 952.3L1460.1 952.3L1461.0 953.0L1462.0 950.8L1463.0 948.8L1463.9 949.8L1464.9 947.0L1465.9 948.3L1467.0 945.6L1467.8 947.2L1468.7 945.4L1469.7 948.6L1470.7 949.4L1471.6 951.3L1472.6 951.3L1473.6 952.0L1474.5 953.3L1475.5 952.2L1476.5 954.1L1477.4 955.3L1478.4 953.4L1479.3 953.8L1480.3 953.1L1481.3 953.0L1482.2 955.5L1483.2 955.8L1484.2 954.8L1485.1 954.7L1486.1 955.6L1487.0 953.1L1488.0 954.2L1489.0 956.0L1489.9 955.7L1490.9 955.3L1491.9 956.3L1492.8 953.5L1493.8 954.4L1494.7 956.4L1495.7 955.1L1496.7 955.6L1497.6 955.6L1498.6 955.1L1499.6 954.0L1500.5 954.9L1501.5 956.2L1502.5 954.8L1503.4 953.1L1504.4 954.9L1505.3 953.4L1506.3 952.2L1507.3 953.2L1508.2 950.6L1509.2 950.6L1510.2 951.0L1511.1 947.4L1512.1 949.4L1513.0 948.0L1514.0 946.5L1515.0 946.8L1515.9 950.1L1516.9 951.1L1517.9 952.1L1518.8 951.8L1519.8 949.8L1520.7 949.8L1521.7 949.8L1522.7 949.4L1523.6 949.8L1524.6 949.7L1525.6 947.9L1526.5 946.8L1527.5 946.6L1528.2 945.2L1529.4 944.8L1530.4 946.3L1531.3 949.2L1532.3 950.2L1533.3 949.7L1534.2 951.3L1535.2 951.9L1536.2 954.6L1537.1 954.8L1538.1 954.2L1539.0 955.3L1540.0 956.2L1541.0 957.2L1541.9 955.2L1542.9 955.5L1543.9 957.5L1544.8 954.7L1545.8 955.5L1546.7 957.4L1547.7 954.9L1548.7 955.9L1549.6 957.4L1550.6 955.7L1551.6 955.0L1552.5 954.4L1553.5 956.9L1554.4 955.6L1555.4 956.7L1556.4 955.5L1557.3 953.8L1558.3 954.4L1559.3 953.4L1560.2 951.8L1561.2 950.9L1562.1 946.4L1563.1 943.8L1564.1 939.9L1565.0 936.1L1566.0 927.7L1567.0 927.5L1567.9 923.6L1568.9 916.7L1569.4 919.6L1569.9 918.4L1570.8 923.1L1571.8 927.8L1572.7 931.9L1573.7 933.1L1574.7 937.9L1575.6 943.4L1576.6 946.9L1577.6 951.4L1578.5 952.2L1579.5 954.2L1580.4 953.1L1581.4 956.2L1582.4 954.5L1583.3 956.1L1584.3 955.7L1585.3 954.4L1586.2 953.9L1587.2 952.9L1588.1 950.8L1589.1 949.8L1590.1 948.9L1591.0 949.5L1591.4 948.0L1592.0 949.0L1593.0 951.2L1593.9 951.1L1594.9 950.4L1595.9 953.1L1596.8 954.6L1597.8 955.3L1598.7 957.9L1599.7 958.1L1600.7 956.6L1601.6 956.9L1602.6 958.0L1603.6 958.9L1604.5 957.5L1605.5 957.4L1606.4 958.8L1607.4 958.3L1608.4 957.9L1609.3 957.3L1610.3 957.7L1611.3 957.0L1612.2 957.3L1613.2 958.3L1614.1 957.7L1615.1 959.6L1616.1 959.4L1617.0 959.6L1618.0 959.1L1619.0 957.7L1619.9 957.8L1620.9 959.0L1621.8 957.3L1622.8 957.3L1623.8 958.1L1624.7 957.5L1625.7 957.4L1626.7 958.9L1627.6 957.6L1628.6 957.3L1629.6 958.4L1630.5 959.3L1631.5 957.1L1632.4 957.3L1633.4 957.8L1634.4 958.3L1635.3 956.0L1636.3 957.0L1637.3 956.0L1638.2 954.6L1639.2 954.3L1640.1 950.9L1641.1 949.7L1642.1 947.7L1643.0 944.7L1644.0 937.3L1645.0 935.3L1645.9 933.3L1646.9 930.6L1647.3 931.8L1647.8 930.9L1648.8 933.0L1649.8 937.2L1650.7 939.5L1651.7 944.4L1652.7 947.9L1653.6 949.5L1654.6 950.9L1655.6 952.5L1656.5 952.9L1657.5 954.9L1658.4 954.7L1659.4 956.1L1660.4 955.9L1661.3 957.0L1662.3 958.3L1663.3 958.5L1664.2 958.1L1665.2 956.9L1666.1 958.4L1667.1 957.4L1668.1 956.9L1669.0 959.0L1670.0 956.9L1671.0 957.4L1671.9 956.6L1672.9 957.1L1673.8 956.8L1674.8 956.1L1675.8 956.1L1676.7 957.3L1677.7 958.1L1678.7 957.0L1679.6 958.2L1680.6 957.0L1681.5 956.4L1682.5 956.5L1683.5 956.3L1684.4 956.2L1685.4 957.4L1686.4 956.3L1687.3 958.6L1688.3 958.0L1689.3 957.0L1690.2 957.3L1691.2 958.6L1692.1 958.3L1693.1 956.8L1694.1 956.7L1695.0 956.4L1696.0 958.4L1697.0 958.3L1697.9 958.1L1698.9 957.5L1699.8 958.1L1700.8 958.4L1701.8 958.0L1702.7 957.1L1703.7 956.5L1704.7 957.9L1705.6 958.5L1706.6 956.9L1707.5 958.1L1708.5 958.6L1709.5 957.5L1710.4 957.5L1711.4 958.6L1712.4 957.5L1713.3 958.1L1714.3 957.1L1715.2 957.3L1716.2 957.9L1717.2 958.3L1718.1 958.6L1719.1 957.3L1720.1 956.6L1721.0 956.9L1722.0 958.5L1723.0 956.7L1723.9 957.7L1724.9 956.5L1725.8 957.2L1726.8 958.6L1727.8 959.2L1728.7 957.3L1729.7 958.0L1730.7 957.0L1731.6 957.8L1732.6 958.3L1733.5 957.2L1734.5 957.5L1735.5 957.2L1736.4 956.9L1737.4 958.1L1738.4 959.1L1739.3 958.8L1740.3 956.7L1741.2 958.2L1742.2 956.9L1743.2 958.4L1744.1 958.4L1745.1 957.9L1746.1 957.1L1747.0 957.5L1748.0 957.4L1749.0 957.2L1749.9 957.1L1750.9 957.2L1751.8 958.7L1752.8 959.2L1753.8 958.7L1754.7 959.5L1755.7 958.6L1756.7 957.6L1757.6 957.3L1758.6 957.3L1759.5 957.5L1760.5 957.7L1761.5 955.6L1762.4 954.8L1763.4 956.3L1764.4 955.2L1765.3 954.1L1766.3 952.2L1767.2 952.5L1768.2 951.8L1769.2 950.9L1770.1 948.6L1771.0 949.4L1772.1 949.3L1773.0 950.5L1774.0 951.2L1774.9 951.5L1775.9 953.8L1776.9 952.5L1777.8 953.7L1778.8 955.1L1779.8 954.6L1780.7 957.2L1781.7 956.9L1782.7 956.6L1783.6 956.6L1784.6 956.0L1785.5 957.1L1786.5 956.3L1787.5 956.2L1788.4 953.8L1789.4 954.9L1790.4 953.9L1791.3 952.3L1792.3 951.4L1793.2 952.8L1794.2 952.2L1795.0 952.1L1796.1 951.2L1797.1 951.8L1798.1 952.1L1799.0 954.7L1800.0 952.9L1800.9 953.4L1801.9 954.6L1802.9 955.3L1803.8 955.7L1804.8 957.2L1805.8 957.6L1806.7 958.4L1807.7 957.9L1808.6 957.4L1809.6 957.1L1810.6 957.7L1811.5 957.1L1812.5 955.8L1813.5 955.6L1814.4 953.2L1815.4 950.8L1816.4 949.1L1817.3 947.6L1818.3 944.9L1819.2 943.7L1820.2 939.6L1821.0 941.0L1822.1 939.5L1823.1 942.2L1824.1 946.3L1825.0 947.7L1826.0 950.3L1826.9 950.0L1827.9 952.0L1828.9 954.4L1829.8 956.6L1830.8 957.9L1831.8 958.0L1832.7 958.2L1833.7 956.7L1834.6 958.3L1835.6 957.2L1836.6 958.9L1837.5 958.5L1838.5 959.2L1839.5 958.7L1840.4 958.9L1841.4 958.8L1842.4 958.0L1843.3 958.5L1844.3 958.1L1845.2 959.5L1846.2 960.0L1847.2 960.3L1848.1 958.8L1849.1 960.7L1850.1 961.5L1851.0 959.9L1852.0 959.8L1852.9 960.2L1853.9 959.6L1854.9 959.1L1855.8 960.4L1856.8 959.0L1857.8 958.4L1858.7 958.7L1859.7 959.4L1860.6 958.9L1861.6 958.3L1862.6 959.0L1863.5 958.5L1864.5 958.9L1865.5 960.5L1866.4 959.8L1867.4 960.6L1868.3 960.7L1869.3 958.6L1870.3 959.8L1871.2 959.9L1872.2 960.6L1873.2 959.7L1874.1 959.4L1875.1 960.2L1876.1 959.5L1877.0 959.3L1878.0 960.2L1878.9 960.2L1879.9 958.8L1880.9 958.6L1881.8 959.3L1882.8 959.3L1883.8 958.9L1884.7 959.0L1885.7 959.5L1886.6 959.3L1887.6 958.8L1888.6 959.9L1889.5 959.2L1890.5 959.0L1891.5 957.9L1892.4 957.7L1893.4 959.9L1894.3 958.4L1895.3 958.6L1896.3 959.4L1897.2 958.4L1898.2 958.4L1899.2 959.6L1900.1 958.8L1901.1 959.4L1902.0 958.3L1903.0 957.7L1904.0 957.7L1904.9 959.3L1905.9 959.2L1906.9 958.6L1907.8 957.3L1908.8 958.4L1909.8 958.7L1910.7 957.2L1911.7 957.7L1912.6 958.4L1913.6 957.3L1914.6 957.6L1915.5 957.7L1916.5 958.8L1917.5 958.3L1918.4 959.3L1919.4 957.6L1920.3 959.6L1921.3 959.8L1922.3 959.0L1923.2 958.3L1924.2 958.6L1925.2 959.3L1926.1 957.9L1927.1 959.6L1928.0 959.4L1929.0 959.7L1930.0 958.4L1930.9 959.8L1931.9 959.1L1932.9 959.2L1933.8 960.2L1934.8 960.3L1935.8 959.3L1936.7 959.7L1937.7 960.1L1938.6 960.2L1939.6 960.3L1940.6 958.9L1941.5 960.3L1942.5 960.1L1943.5 959.3L1944.4 960.2L1945.4 960.3L1946.3 959.3L1947.3 958.3L1948.3 959.0L1949.2 959.4L1950.2 959.2L1951.2 957.9L1952.1 959.6L1953.1 959.5L1954.0 958.7L1955.0 958.5L1956.0 958.4L1956.9 957.1L1957.9 957.7L1958.9 958.8L1959.8 957.9L1960.8 958.3L1961.7 956.9L1962.7 957.3L1963.7 956.8L1964.6 957.7L1965.6 956.1L1966.6 956.0L1967.5 954.7L1968.5 951.6L1969.5 952.1L1970.4 948.6L1971.4 949.4L1972.3 945.9L1973.3 944.0L1974.3 944.3L1974.7 945.2L1975.2 944.3L1976.2 945.5L1977.2 945.6L1978.1 948.3L1979.1 948.8L1980.0 952.2L1981.0 951.4L1982.0 954.8L1982.9 955.4L1983.9 956.5L1984.9 957.1L1985.8 955.7L1986.8 956.1L1987.7 956.8L1988.7 956.4L1989.7 957.5L1990.6 956.8L1991.6 955.0L1992.6 953.4L1993.5 953.7L1994.5 951.1L1995.4 950.0L1996.4 949.3L1997.4 945.0L1998.3 945.4L1999.3 943.6L2000.3 943.0L2001.2 941.5L2002.2 942.7L2003.2 944.6L2004.1 947.0L2005.1 951.0L2006.0 953.2L2007.0 954.7L2008.0 954.9L2008.9 955.0L2009.9 957.6L2010.9 956.4L2011.8 957.1L2012.8 956.4L2013.7 957.5L2014.7 957.1L2015.7 959.4L2016.6 958.0L2017.6 957.7L2018.6 958.5L2019.5 958.8L2020.5 958.6L2021.4 958.4L2022.4 959.3L2023.4 957.4L2024.3 958.0L2025.3 958.5L2026.3 957.3L2027.2 959.3L2028.2 957.9L2029.2 957.9L2030.1 958.1L2031.1 959.6L2032.0 958.7L2033.0 958.8L2034.0 958.5L2034.9 957.9L2035.9 959.3L2036.9 958.8L2037.8 959.3L2038.8 958.4L2039.7 958.8L2040.7 959.3L2041.7 959.2L2042.6 959.0L2043.6 958.9L2044.6 959.3L2045.5 959.0L2046.5 959.1L2047.4 959.0L2048.4 959.1L2049.4 958.5L2050.3 959.2L2051.3 958.0L2052.3 957.8L2053.2 959.4L2054.2 958.2L2055.1 959.2L2056.1 958.0L2057.1 958.8L2058.0 958.4L2059.0 958.6L2060.0 957.5L2060.9 957.9L2061.9 959.2L2062.9 958.8L2063.8 957.2L2064.8 958.1L2065.7 957.9L2066.7 959.0L2067.7 958.0L2068.6 956.7L2069.6 957.3L2070.6 957.1L2071.5 958.2L2072.5 956.8L2073.4 955.5L2074.4 957.4L2075.4 955.4L2076.3 956.0L2077.3 954.4L2078.3 954.6L2079.2 952.3L2080.2 954.5L2081.1 952.2L2081.8 952.6L2082.1 951.1L2083.1 953.5L2084.0 952.3L2085.0 954.1L2086.0 953.8L2086.9 953.2L2087.9 955.3L2088.9 956.6L2089.8 956.3L2090.8 954.9L2091.7 956.5L2092.7 956.2L2093.7 957.5L2094.6 957.3L2095.6 958.7L2096.6 958.6L2097.5 957.1L2098.5 959.2L2099.4 957.7L2100.4 957.2L2101.4 959.2L2102.3 958.0L2103.3 958.5L2104.3 957.3L2105.2 958.7L2106.2 957.9L2107.1 958.6L2108.1 957.5L2109.1 959.0L2110.0 957.1L2111.0 957.3L2112.0 958.1L2112.9 957.6L2113.9 957.6L2114.8 958.2L2115.8 959.2L2116.8 958.7L2117.7 957.9L2118.7 958.2L2119.7 960.2L2120.6 960.4L2121.6 960.4L2122.6 960.5L2123.5 959.6L2124.5 960.2L2125.4 958.8L2126.4 958.1L2127.4 958.0L2128.3 957.9L2129.3 958.4L2130.3 958.1L2131.2 959.5L2132.2 959.9L2133.1 957.6L2134.1 957.6L2135.1 957.2L2136.0 959.4L2137.0 958.8L2138.0 959.2L2138.9 958.9L2139.9 959.0L2140.8 958.3L2141.8 958.8L2142.8 958.8L2143.7 959.5L2144.7 959.1L2145.7 959.0L2146.6 957.4L2147.6 959.4L2148.5 957.3L2149.5 958.6L2150.5 956.1L2151.4 955.9L2152.4 957.2L2153.4 956.8L2154.3 955.4L2155.3 956.8L2156.3 956.0L2157.2 956.5L2158.2 954.4L2159.1 954.9L2160.1 953.8L2161.0 955.6L2162.0 955.2L2163.0 954.3L2164.0 955.1L2164.9 956.3L2165.9 956.4L2166.8 955.7L2167.8 956.0L2168.8 958.2L2169.7 957.3L2170.7 957.9L2171.7 956.1L2172.6 958.7L2173.6 957.3L2174.5 956.6L2175.5 958.9L2176.5 957.3L2177.4 957.4L2178.4 957.5L2179.4 957.8L2180.3 958.1L2181.3 957.0L2182.3 957.8L2183.2 957.8L2184.2 957.7L2185.1 958.8L2186.1 958.0L2187.1 957.7L2188.0 957.4L2189.0 957.7L2190.0 957.3L2190.9 956.1L2191.9 956.3L2192.8 955.4L2193.8 954.3L2194.8 953.2L2195.7 950.9L2196.7 951.5L2197.7 948.2L2198.6 948.0L2199.6 946.6L2200.5 944.4L2201.5 944.4L2202.5 943.0L2202.9 941.3L2203.4 942.0L2204.4 944.3L2205.4 944.6L2206.3 946.6L2207.3 946.5L2208.2 950.3L2209.2 951.1L2210.2 953.9L2211.1 955.3L2212.1 955.4L2213.1 958.2L2214.0 957.8L2215.0 958.9L2216.0 958.7L2216.9 957.5L2217.9 957.7L2218.8 959.1L2219.8 958.9L2220.8 958.1L2221.7 960.1L2222.7 959.2L2223.7 958.8L2224.6 961.0L2225.6 961.3L2226.5 960.3L2227.5 959.4L2228.5 959.1L2229.4 959.9L2230.4 959.2L2231.4 959.9L2232.3 960.0L2233.3 960.6L2234.2 958.7L2235.2 960.0L2236.2 959.9L2237.1 959.6L2238.1 958.5L2239.1 960.4L2240.0 959.1L2241.0 958.2L2241.9 957.8L2242.9 958.4L2243.9 959.9L2244.8 958.9L2245.8 959.6L2246.8 959.1L2247.7 958.2L2248.7 958.1L2249.7 958.1L2250.6 959.1L2251.6 958.6L2252.5 957.5L2253.5 958.5L2254.5 956.5L2255.4 955.6L2256.4 953.5L2257.4 950.6L2258.3 947.7L2259.3 947.2L2260.2 945.1L2261.2 938.5L2262.2 935.2L2263.1 936.3L2264.1 934.9L2265.1 937.8L2266.0 937.1L2267.0 941.5L2267.9 942.0L2268.9 947.1L2269.9 950.3L2270.8 950.5L2271.8 954.7L2272.8 954.9L2273.7 956.0L2274.7 955.4L2275.7 956.8L2276.6 957.7L2277.6 957.0L2278.5 957.6L2279.5 957.1L2280.5 955.1L2281.4 954.5L2282.4 954.0L2283.4 954.6L2284.3 953.7L2285.3 952.5L2286.2 951.6L2287.0 953.1L2288.2 953.5L2289.1 954.5L2290.1 953.5L2291.1 953.3L2292.0 954.5L2293.0 954.9L2293.9 955.6L2294.9 957.2L2295.9 957.6L2296.8 958.5L2297.8 958.9L2298.8 959.5L2299.7 959.3L2300.7 959.4L2301.6 958.7L2302.6 958.2L2303.6 959.7L2304.5 957.8L2305.5 959.6"/>
</g>
<g class="tk">
<text transform="translate(139.0 1744.6) scale(0.965 1)">5</text>
<text transform="translate(380.2 1744.6) scale(0.965 1)">10</text>
<text transform="translate(620.9 1744.6) scale(0.965 1)">15</text>
<text transform="translate(861.7 1744.6) scale(0.965 1)">20</text>
<text transform="translate(1102.4 1744.6) scale(0.965 1)">25</text>
<text transform="translate(1343.1 1744.6) scale(0.965 1)">30</text>
<text transform="translate(1583.8 1744.6) scale(0.965 1)">35</text>
<text transform="translate(1824.6 1744.6) scale(0.965 1)">40</text>
<text transform="translate(2065.3 1744.6) scale(0.965 1)">45</text>
<text transform="translate(2306.0 1744.6) scale(0.965 1)">50</text>
</g>
<text class="lab" transform="translate(1231.8 1843.6) scale(0.99 1)" text-anchor="middle">2 Theta (degree)</text>
<text class="lab" transform="translate(84.5 829) rotate(-90)" text-anchor="middle">Intensity (a.u.)</text>
<g fill="#000" shape-rendering="crispEdges">
<polygon points="364.0,102.3 376.2,117.5 364.0,132.7 351.8,117.5"/>
<polygon points="530.2,588.8 542.5,604.0 530.2,619.2 518.0,604.0"/>
<polygon points="683.0,750.6 695.2,765.8 683.0,781.0 670.8,765.8"/>
<polygon points="768.2,749.5 780.5,764.7 768.2,779.9 756.0,764.7"/>
<polygon points="900.0,464.7 912.2,479.9 900.0,495.1 887.8,479.9"/>
<polygon points="1020.9,842.7 1033.2,857.9 1020.9,873.1 1008.6,857.9"/>
<polygon points="1113.0,759.8 1125.2,775.0 1113.0,790.2 1100.8,775.0"/>
<polygon points="1159.2,820.8 1171.5,836.0 1159.2,851.2 1147.0,836.0"/>
<polygon points="1384.0,717.5 1396.2,732.7 1384.0,747.9 1371.8,732.7"/>
<polygon points="1416.9,798.8 1429.2,814.0 1416.9,829.2 1404.7,814.0"/>
<polygon points="1900.1,167.9 1912.3,183.1 1900.1,198.3 1887.8,183.1"/>
</g>
<text class="b" transform="translate(2254 196.8) scale(0.985 1)" text-anchor="end">SAPO-34</text>
<text class="b" transform="translate(2279.5 880) scale(0.98 1)" text-anchor="end" fill="#FF4444">HCs- Cu-SAPO-34</text>
<text class="b" transform="translate(2279.5 1201.2) scale(0.98 1)" text-anchor="end" fill="#0000FF">Fresh Cu-SAPO-34</text>
<text class="b" transform="translate(2279.5 1521) scale(0.98 1)" text-anchor="end" fill="#048543">H-SAPO-34</text>
</svg>
</body>
</html>
